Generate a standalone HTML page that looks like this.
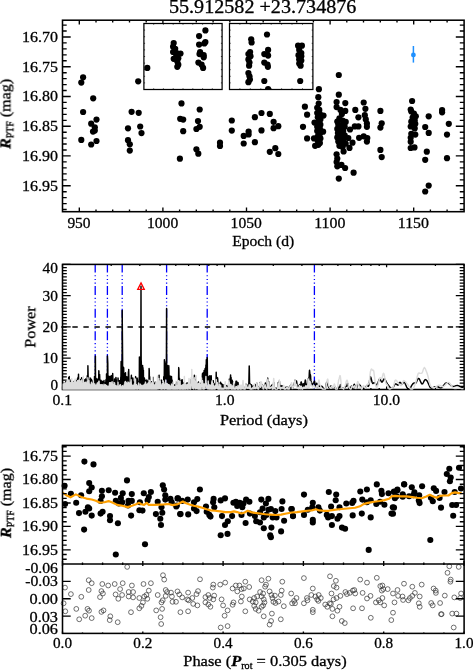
<!DOCTYPE html>
<html lang="en"><head><meta charset="utf-8"><title>55.912582 +23.734876</title>
<style>html,body{margin:0;padding:0;background:#fff}svg{display:block}text{stroke:#000;stroke-width:.3px;will-change:transform}</style></head>
<body>
<svg width="473" height="670" viewBox="0 0 473 670" font-family='"Liberation Serif", "DejaVu Serif", serif' fill="#000">
<rect width="473" height="670" fill="#fff"/>
<text x="262.7" y="12.9" font-size="17.8" text-anchor="middle" textLength="187.5" lengthAdjust="spacingAndGlyphs" >55.912582 +23.734876</text>
<path d="M62.5 25.1L66.7 25.1M464 25.1L459.8 25.1M62.5 31L66.7 31M464 31L459.8 31M62.5 37L70.7 37M464 37L455.8 37M62.5 42.9L66.7 42.9M464 42.9L459.8 42.9M62.5 48.8L66.7 48.8M464 48.8L459.8 48.8M62.5 54.8L66.7 54.8M464 54.8L459.8 54.8M62.5 60.7L66.7 60.7M464 60.7L459.8 60.7M62.5 66.7L70.7 66.7M464 66.7L455.8 66.7M62.5 72.7L66.7 72.7M464 72.7L459.8 72.7M62.5 78.6L66.7 78.6M464 78.6L459.8 78.6M62.5 84.6L66.7 84.6M464 84.6L459.8 84.6M62.5 90.5L66.7 90.5M464 90.5L459.8 90.5M62.5 96.5L70.7 96.5M464 96.5L455.8 96.5M62.5 102.4L66.7 102.4M464 102.4L459.8 102.4M62.5 108.4L66.7 108.4M464 108.4L459.8 108.4M62.5 114.3L66.7 114.3M464 114.3L459.8 114.3M62.5 120.3L66.7 120.3M464 120.3L459.8 120.3M62.5 126.2L70.7 126.2M464 126.2L455.8 126.2M62.5 132.2L66.7 132.2M464 132.2L459.8 132.2M62.5 138.1L66.7 138.1M464 138.1L459.8 138.1M62.5 144L66.7 144M464 144L459.8 144M62.5 150L66.7 150M464 150L459.8 150M62.5 155.9L70.7 155.9M464 155.9L455.8 155.9M62.5 161.9L66.7 161.9M464 161.9L459.8 161.9M62.5 167.9L66.7 167.9M464 167.9L459.8 167.9M62.5 173.8L66.7 173.8M464 173.8L459.8 173.8M62.5 179.8L66.7 179.8M464 179.8L459.8 179.8M62.5 185.7L70.7 185.7M464 185.7L455.8 185.7M62.5 191.7L66.7 191.7M464 191.7L459.8 191.7M62.5 197.6L66.7 197.6M464 197.6L459.8 197.6M62.5 203.6L66.7 203.6M464 203.6L459.8 203.6M62.5 209.5L66.7 209.5M464 209.5L459.8 209.5M79.3 211.8L79.3 207.4M79.3 20.2L79.3 24.6M96 211.8L96 209.6M96 20.2L96 22.4M112.7 211.8L112.7 209.6M112.7 20.2L112.7 22.4M129.5 211.8L129.5 209.6M129.5 20.2L129.5 22.4M146.2 211.8L146.2 209.6M146.2 20.2L146.2 22.4M162.9 211.8L162.9 207.4M162.9 20.2L162.9 24.6M179.6 211.8L179.6 209.6M179.6 20.2L179.6 22.4M196.3 211.8L196.3 209.6M196.3 20.2L196.3 22.4M213.1 211.8L213.1 209.6M213.1 20.2L213.1 22.4M229.8 211.8L229.8 209.6M229.8 20.2L229.8 22.4M246.5 211.8L246.5 207.4M246.5 20.2L246.5 24.6M263.2 211.8L263.2 209.6M263.2 20.2L263.2 22.4M279.9 211.8L279.9 209.6M279.9 20.2L279.9 22.4M296.7 211.8L296.7 209.6M296.7 20.2L296.7 22.4M313.4 211.8L313.4 209.6M313.4 20.2L313.4 22.4M330.1 211.8L330.1 207.4M330.1 20.2L330.1 24.6M346.8 211.8L346.8 209.6M346.8 20.2L346.8 22.4M363.5 211.8L363.5 209.6M363.5 20.2L363.5 22.4M380.3 211.8L380.3 209.6M380.3 20.2L380.3 22.4M397 211.8L397 209.6M397 20.2L397 22.4M413.7 211.8L413.7 207.4M413.7 20.2L413.7 24.6M430.4 211.8L430.4 209.6M430.4 20.2L430.4 22.4M447.1 211.8L447.1 209.6M447.1 20.2L447.1 22.4" stroke="#000" stroke-width="1.35" fill="none"/>
<g id="p1dots">
<circle cx="83.1" cy="77.3" r="3.1"/>
<circle cx="81.3" cy="82.6" r="3.1"/>
<circle cx="93.2" cy="98.3" r="3.1"/>
<circle cx="83.1" cy="112" r="3.1"/>
<circle cx="96.5" cy="119.6" r="3.1"/>
<circle cx="91.2" cy="123.7" r="3.1"/>
<circle cx="94.8" cy="127.3" r="3.1"/>
<circle cx="93" cy="131.6" r="3.1"/>
<circle cx="94.8" cy="130.6" r="3.1"/>
<circle cx="81.3" cy="139.9" r="3.1"/>
<circle cx="96.5" cy="141" r="3.1"/>
<circle cx="91.2" cy="144.5" r="3.1"/>
<circle cx="138.2" cy="81.3" r="3.1"/>
<circle cx="147.3" cy="67.9" r="3.1"/>
<circle cx="131.6" cy="111.8" r="3.1"/>
<circle cx="138.7" cy="112.8" r="3.1"/>
<circle cx="128" cy="128.3" r="3.1"/>
<circle cx="140.2" cy="126.5" r="3.1"/>
<circle cx="141.5" cy="133.1" r="3.1"/>
<circle cx="128" cy="140.2" r="3.1"/>
<circle cx="129.8" cy="144.3" r="3.1"/>
<circle cx="129.8" cy="150.6" r="3.1"/>
<circle cx="181.5" cy="103.4" r="3.1"/>
<circle cx="180.2" cy="118.8" r="3.1"/>
<circle cx="183.2" cy="119.6" r="3.1"/>
<circle cx="183.2" cy="131.2" r="3.1"/>
<circle cx="179.9" cy="158.7" r="3.1"/>
<circle cx="199.7" cy="109.5" r="3.1"/>
<circle cx="198" cy="121" r="3.1"/>
<circle cx="199.7" cy="126.8" r="3.1"/>
<circle cx="196.4" cy="129" r="3.1"/>
<circle cx="196.4" cy="149.3" r="3.1"/>
<circle cx="198.3" cy="153.7" r="3.1"/>
<circle cx="220" cy="142.7" r="3.1"/>
<circle cx="220" cy="146" r="3.1"/>
<circle cx="231.8" cy="120.5" r="3.1"/>
<circle cx="231.8" cy="130.6" r="3.1"/>
<circle cx="243.7" cy="135.9" r="3.1"/>
<circle cx="248.6" cy="131.7" r="3.1"/>
<circle cx="248.6" cy="134.5" r="3.1"/>
<circle cx="243.7" cy="143.5" r="3.1"/>
<circle cx="254.9" cy="117.2" r="3.1"/>
<circle cx="254.9" cy="142.2" r="3.1"/>
<circle cx="261.5" cy="113" r="3.1"/>
<circle cx="261.5" cy="130.4" r="3.1"/>
<circle cx="269.8" cy="113.9" r="3.1"/>
<circle cx="273.6" cy="121.8" r="3.1"/>
<circle cx="278.3" cy="126.2" r="3.1"/>
<circle cx="273.6" cy="128.2" r="3.1"/>
<circle cx="269.8" cy="151.8" r="3.1"/>
<circle cx="275.3" cy="148.2" r="3.1"/>
<circle cx="278.3" cy="154" r="3.1"/>
<circle cx="304.9" cy="106.7" r="3.1"/>
<circle cx="307.1" cy="114.7" r="3.1"/>
<circle cx="303" cy="126.8" r="3.1"/>
<circle cx="307.1" cy="138.4" r="3.1"/>
<circle cx="318.9" cy="89.2" r="3.1"/>
<circle cx="318.3" cy="97.2" r="3.1"/>
<circle cx="318.7" cy="103.5" r="3.1"/>
<circle cx="317.2" cy="107.8" r="3.1"/>
<circle cx="319.3" cy="109.9" r="3.1"/>
<circle cx="317.2" cy="113.1" r="3.1"/>
<circle cx="319.9" cy="114.1" r="3.1"/>
<circle cx="323.5" cy="115.6" r="3.1"/>
<circle cx="317.8" cy="117.3" r="3.1"/>
<circle cx="320.4" cy="119.4" r="3.1"/>
<circle cx="314.5" cy="122.6" r="3.1"/>
<circle cx="317.8" cy="122.6" r="3.1"/>
<circle cx="320.4" cy="124.7" r="3.1"/>
<circle cx="317.2" cy="126.8" r="3.1"/>
<circle cx="319.9" cy="128.9" r="3.1"/>
<circle cx="323.1" cy="131.7" r="3.1"/>
<circle cx="317.2" cy="131" r="3.1"/>
<circle cx="319.9" cy="133.8" r="3.1"/>
<circle cx="317.8" cy="136.3" r="3.1"/>
<circle cx="314" cy="138.4" r="3.1"/>
<circle cx="320.4" cy="138.4" r="3.1"/>
<circle cx="317.8" cy="141" r="3.1"/>
<circle cx="319.9" cy="143.1" r="3.1"/>
<circle cx="315.1" cy="145.8" r="3.1"/>
<circle cx="318.3" cy="144.8" r="3.1"/>
<circle cx="338.8" cy="75" r="3.1"/>
<circle cx="338.8" cy="94.7" r="3.1"/>
<circle cx="336.6" cy="102.1" r="3.1"/>
<circle cx="345.3" cy="103.1" r="3.1"/>
<circle cx="336.6" cy="107.1" r="3.1"/>
<circle cx="340.5" cy="109.9" r="3.1"/>
<circle cx="345.3" cy="110.9" r="3.1"/>
<circle cx="341.9" cy="114.1" r="3.1"/>
<circle cx="339.4" cy="118.3" r="3.1"/>
<circle cx="337.3" cy="121.5" r="3.1"/>
<circle cx="342.6" cy="120.5" r="3.1"/>
<circle cx="345.7" cy="121.9" r="3.1"/>
<circle cx="338.3" cy="124.7" r="3.1"/>
<circle cx="341.9" cy="125.3" r="3.1"/>
<circle cx="344.7" cy="126.8" r="3.1"/>
<circle cx="337.3" cy="128.9" r="3.1"/>
<circle cx="340.5" cy="129.5" r="3.1"/>
<circle cx="343.2" cy="131" r="3.1"/>
<circle cx="337.9" cy="133.1" r="3.1"/>
<circle cx="341.1" cy="134.2" r="3.1"/>
<circle cx="344.7" cy="135.3" r="3.1"/>
<circle cx="337.3" cy="137.4" r="3.1"/>
<circle cx="340.5" cy="138.4" r="3.1"/>
<circle cx="343.6" cy="139.5" r="3.1"/>
<circle cx="348.3" cy="138" r="3.1"/>
<circle cx="338.3" cy="141.6" r="3.1"/>
<circle cx="341.5" cy="142.7" r="3.1"/>
<circle cx="345.7" cy="143.7" r="3.1"/>
<circle cx="339.4" cy="145.8" r="3.1"/>
<circle cx="342.6" cy="146.9" r="3.1"/>
<circle cx="349.5" cy="147.9" r="3.1"/>
<circle cx="352.5" cy="142.7" r="3.1"/>
<circle cx="343.6" cy="151.5" r="3.1"/>
<circle cx="336.6" cy="154.3" r="3.1"/>
<circle cx="337.3" cy="158.5" r="3.1"/>
<circle cx="336.6" cy="162.1" r="3.1"/>
<circle cx="337.3" cy="166.3" r="3.1"/>
<circle cx="341.5" cy="164.9" r="3.1"/>
<circle cx="345.1" cy="168" r="3.1"/>
<circle cx="353.6" cy="172.7" r="3.1"/>
<circle cx="338.8" cy="178.6" r="3.1"/>
<circle cx="355.3" cy="109.9" r="3.1"/>
<circle cx="358.4" cy="117.3" r="3.1"/>
<circle cx="354.8" cy="126.4" r="3.1"/>
<circle cx="358.4" cy="126.4" r="3.1"/>
<circle cx="350" cy="129.5" r="3.1"/>
<circle cx="359.1" cy="137.8" r="3.1"/>
<circle cx="363.7" cy="102.5" r="3.1"/>
<circle cx="365.4" cy="108.8" r="3.1"/>
<circle cx="364.8" cy="115.2" r="3.1"/>
<circle cx="365.8" cy="119.4" r="3.1"/>
<circle cx="366.9" cy="123.6" r="3.1"/>
<circle cx="366.9" cy="126.8" r="3.1"/>
<circle cx="363.7" cy="136.3" r="3.1"/>
<circle cx="367.3" cy="138" r="3.1"/>
<circle cx="366.9" cy="141.6" r="3.1"/>
<circle cx="412.1" cy="101" r="3.1"/>
<circle cx="410.7" cy="109.6" r="3.1"/>
<circle cx="411.3" cy="111.5" r="3.1"/>
<circle cx="413.9" cy="113.6" r="3.1"/>
<circle cx="415.8" cy="116.3" r="3.1"/>
<circle cx="412.6" cy="117.6" r="3.1"/>
<circle cx="414.7" cy="120.3" r="3.1"/>
<circle cx="411.3" cy="121.7" r="3.1"/>
<circle cx="415.3" cy="123.8" r="3.1"/>
<circle cx="412.6" cy="125.7" r="3.1"/>
<circle cx="410.7" cy="126.5" r="3.1"/>
<circle cx="414.7" cy="128.4" r="3.1"/>
<circle cx="411.3" cy="133.8" r="3.1"/>
<circle cx="415.3" cy="134.6" r="3.1"/>
<circle cx="410.7" cy="137.8" r="3.1"/>
<circle cx="410.7" cy="141.8" r="3.1"/>
<circle cx="410.7" cy="148" r="3.1"/>
<circle cx="414.5" cy="147.4" r="3.1"/>
<circle cx="428.7" cy="116.3" r="3.1"/>
<circle cx="425.2" cy="127" r="3.1"/>
<circle cx="428.7" cy="132.9" r="3.1"/>
<circle cx="426.8" cy="151.7" r="3.1"/>
<circle cx="425.2" cy="159.8" r="3.1"/>
<circle cx="428.7" cy="185.6" r="3.1"/>
<circle cx="425.2" cy="191.5" r="3.1"/>
<circle cx="442.1" cy="110.1" r="3.1"/>
<circle cx="442.1" cy="112.3" r="3.1"/>
<circle cx="448.8" cy="123.8" r="3.1"/>
<circle cx="447" cy="134.6" r="3.1"/>
<circle cx="447" cy="158.2" r="3.1"/>
<circle cx="380.4" cy="110.9" r="3.1"/>
<circle cx="381.7" cy="123.3" r="3.1"/>
<circle cx="380.4" cy="127.6" r="3.1"/>
<circle cx="380.4" cy="149.9" r="3.1"/>
<circle cx="381.7" cy="157.1" r="3.1"/>
</g>
<rect x="143.9" y="23.5" width="78.2" height="66" fill="#fff" stroke="#000" stroke-width="1.25"/>
<path d="M153.7 23.5L153.7 24.7M153.7 89.5L153.7 88.3M163.4 23.5L163.4 24.7M163.4 89.5L163.4 88.3M173.2 23.5L173.2 24.7M173.2 89.5L173.2 88.3M183 23.5L183 24.7M183 89.5L183 88.3M192.8 23.5L192.8 24.7M192.8 89.5L192.8 88.3M202.6 23.5L202.6 24.7M202.6 89.5L202.6 88.3M212.3 23.5L212.3 24.7M212.3 89.5L212.3 88.3M143.9 30.1L145.1 30.1M222.1 30.1L220.9 30.1M143.9 36.7L145.1 36.7M222.1 36.7L220.9 36.7M143.9 43.3L145.1 43.3M222.1 43.3L220.9 43.3M143.9 49.9L145.1 49.9M222.1 49.9L220.9 49.9M143.9 56.5L145.1 56.5M222.1 56.5L220.9 56.5M143.9 63.1L145.1 63.1M222.1 63.1L220.9 63.1M143.9 69.7L145.1 69.7M222.1 69.7L220.9 69.7M143.9 76.3L145.1 76.3M222.1 76.3L220.9 76.3M143.9 82.9L145.1 82.9M222.1 82.9L220.9 82.9" stroke="#000" stroke-width="0.7" fill="none"/>
<rect x="229.5" y="23.5" width="83.4" height="66" fill="#fff" stroke="#000" stroke-width="1.25"/>
<path d="M239.9 23.5L239.9 24.7M239.9 89.5L239.9 88.3M250.3 23.5L250.3 24.7M250.3 89.5L250.3 88.3M260.8 23.5L260.8 24.7M260.8 89.5L260.8 88.3M271.2 23.5L271.2 24.7M271.2 89.5L271.2 88.3M281.6 23.5L281.6 24.7M281.6 89.5L281.6 88.3M292 23.5L292 24.7M292 89.5L292 88.3M302.5 23.5L302.5 24.7M302.5 89.5L302.5 88.3M229.5 30.1L230.7 30.1M312.9 30.1L311.7 30.1M229.5 36.7L230.7 36.7M312.9 36.7L311.7 36.7M229.5 43.3L230.7 43.3M312.9 43.3L311.7 43.3M229.5 49.9L230.7 49.9M312.9 49.9L311.7 49.9M229.5 56.5L230.7 56.5M312.9 56.5L311.7 56.5M229.5 63.1L230.7 63.1M312.9 63.1L311.7 63.1M229.5 69.7L230.7 69.7M312.9 69.7L311.7 69.7M229.5 76.3L230.7 76.3M312.9 76.3L311.7 76.3M229.5 82.9L230.7 82.9M312.9 82.9L311.7 82.9" stroke="#000" stroke-width="0.7" fill="none"/>
<clipPath id="ci"><rect x="143.9" y="23.5" width="78.2" height="66"/><rect x="229.5" y="23.5" width="83.4" height="66"/></clipPath>
<g id="insetdots" clip-path="url(#ci)">
<circle cx="173.7" cy="43.1" r="3.1"/>
<circle cx="173.1" cy="46.7" r="3.1"/>
<circle cx="175.2" cy="48.8" r="3.1"/>
<circle cx="173.1" cy="52" r="3.1"/>
<circle cx="176.6" cy="53.1" r="3.1"/>
<circle cx="180.5" cy="53.5" r="3.1"/>
<circle cx="176.2" cy="56.2" r="3.1"/>
<circle cx="173.7" cy="58.8" r="3.1"/>
<circle cx="178.3" cy="58.3" r="3.1"/>
<circle cx="177.3" cy="61.5" r="3.1"/>
<circle cx="178.3" cy="64.7" r="3.1"/>
<circle cx="177.3" cy="66.8" r="3.1"/>
<circle cx="205.4" cy="30.4" r="3.1"/>
<circle cx="199.1" cy="36.1" r="3.1"/>
<circle cx="205.4" cy="42.1" r="3.1"/>
<circle cx="199.1" cy="44.6" r="3.1"/>
<circle cx="204.3" cy="43.5" r="3.1"/>
<circle cx="200.1" cy="52" r="3.1"/>
<circle cx="199.5" cy="54.1" r="3.1"/>
<circle cx="203.7" cy="55.2" r="3.1"/>
<circle cx="203.7" cy="57.3" r="3.1"/>
<circle cx="198.4" cy="62.6" r="3.1"/>
<circle cx="201.6" cy="64.7" r="3.1"/>
<circle cx="203.1" cy="67.9" r="3.1"/>
<circle cx="251.2" cy="39.3" r="3.1"/>
<circle cx="251.6" cy="42.5" r="3.1"/>
<circle cx="250.1" cy="52" r="3.1"/>
<circle cx="248.4" cy="54.1" r="3.1"/>
<circle cx="250.5" cy="56.2" r="3.1"/>
<circle cx="248.4" cy="59.4" r="3.1"/>
<circle cx="249.5" cy="62.6" r="3.1"/>
<circle cx="249.1" cy="65.7" r="3.1"/>
<circle cx="248.4" cy="73.1" r="3.1"/>
<circle cx="249.5" cy="76.3" r="3.1"/>
<circle cx="249.9" cy="79.5" r="3.1"/>
<circle cx="248.4" cy="82.2" r="3.1"/>
<circle cx="267" cy="34.5" r="3.1"/>
<circle cx="268.1" cy="49.9" r="3.1"/>
<circle cx="264.3" cy="54.1" r="3.1"/>
<circle cx="268.1" cy="55.6" r="3.1"/>
<circle cx="264.3" cy="62.6" r="3.1"/>
<circle cx="267.5" cy="64.7" r="3.1"/>
<circle cx="267.9" cy="66.8" r="3.1"/>
<circle cx="264.3" cy="81" r="3.1"/>
<circle cx="268.1" cy="89" r="3.1"/>
<circle cx="298.1" cy="45.7" r="3.1"/>
<circle cx="301.9" cy="45.7" r="3.1"/>
<circle cx="299.2" cy="49.9" r="3.1"/>
<circle cx="301.3" cy="53.1" r="3.1"/>
<circle cx="298.5" cy="55.2" r="3.1"/>
<circle cx="301.3" cy="56.2" r="3.1"/>
<circle cx="299.2" cy="59.4" r="3.1"/>
<circle cx="301.3" cy="60.5" r="3.1"/>
<circle cx="299.2" cy="63.6" r="3.1"/>
<circle cx="300.6" cy="65.7" r="3.1"/>
<circle cx="300.2" cy="81" r="3.1"/>
<circle cx="147.3" cy="67.9" r="3.1"/>
</g>
<path d="M413.4 46V62.6" stroke="#1e90ff" stroke-width="1.5"/><circle cx="413.4" cy="54.9" r="2.4" fill="#1e90ff"/>
<rect x="62.5" y="20.2" width="401.6" height="191.5" fill="none" stroke="#000" stroke-width="1.55"/>
<text x="58" y="41.9" font-size="15.6" text-anchor="end" textLength="36" lengthAdjust="spacingAndGlyphs" >16.70</text>
<text x="58" y="71.6" font-size="15.6" text-anchor="end" textLength="36" lengthAdjust="spacingAndGlyphs" >16.75</text>
<text x="58" y="101.4" font-size="15.6" text-anchor="end" textLength="36" lengthAdjust="spacingAndGlyphs" >16.80</text>
<text x="58" y="131.1" font-size="15.6" text-anchor="end" textLength="36" lengthAdjust="spacingAndGlyphs" >16.85</text>
<text x="58" y="160.8" font-size="15.6" text-anchor="end" textLength="36" lengthAdjust="spacingAndGlyphs" >16.90</text>
<text x="58" y="190.6" font-size="15.6" text-anchor="end" textLength="36" lengthAdjust="spacingAndGlyphs" >16.95</text>
<text x="79" y="227.5" font-size="15.6" text-anchor="middle" textLength="23.2" lengthAdjust="spacingAndGlyphs" >950</text>
<text x="162.6" y="227.5" font-size="15.6" text-anchor="middle" textLength="31.2" lengthAdjust="spacingAndGlyphs" >1000</text>
<text x="246.2" y="227.5" font-size="15.6" text-anchor="middle" textLength="31.2" lengthAdjust="spacingAndGlyphs" >1050</text>
<text x="329.8" y="227.5" font-size="15.6" text-anchor="middle" textLength="31.2" lengthAdjust="spacingAndGlyphs" >1100</text>
<text x="413.4" y="227.5" font-size="15.6" text-anchor="middle" textLength="31.2" lengthAdjust="spacingAndGlyphs" >1150</text>
<text x="263.2" y="246.4" font-size="15.5" text-anchor="middle" textLength="62" lengthAdjust="spacingAndGlyphs" >Epoch (d)</text>
<text transform="translate(10.4 113.9) rotate(-90)" font-size="15.5" text-anchor="middle" textLength="70" lengthAdjust="spacingAndGlyphs"><tspan font-style="italic" font-weight="bold">R</tspan><tspan font-size="9.5" dy="3">PTF</tspan><tspan dy="-3"> (mag)</tspan></text>
<g stroke="#0000ff" stroke-width="1.3" fill="none" stroke-dasharray="9 2.75 1.1 2.55 1.1 2.55 1.1 2.45" stroke-dashoffset="0.9">
<path d="M95.2 264.4V389.4"/>
<path d="M107.4 264.4V389.4"/>
<path d="M122.2 264.4V389.4"/>
<path d="M166.6 264.4V389.4"/>
<path d="M207.2 264.4V389.4"/>
<path d="M314.4 264.4V389.4"/>
</g>
<path d="M62.5 389.4L70.7 389.4M464 389.4L455.8 389.4M62.5 386.3L66.8 386.3M464 386.3L459.7 386.3M62.5 383.2L66.8 383.2M464 383.2L459.7 383.2M62.5 380.1L66.8 380.1M464 380.1L459.7 380.1M62.5 376.9L66.8 376.9M464 376.9L459.7 376.9M62.5 373.8L66.8 373.8M464 373.8L459.7 373.8M62.5 370.7L66.8 370.7M464 370.7L459.7 370.7M62.5 367.6L66.8 367.6M464 367.6L459.7 367.6M62.5 364.4L66.8 364.4M464 364.4L459.7 364.4M62.5 361.3L66.8 361.3M464 361.3L459.7 361.3M62.5 358.2L70.7 358.2M464 358.2L455.8 358.2M62.5 355L66.8 355M464 355L459.7 355M62.5 351.9L66.8 351.9M464 351.9L459.7 351.9M62.5 348.8L66.8 348.8M464 348.8L459.7 348.8M62.5 345.7L66.8 345.7M464 345.7L459.7 345.7M62.5 342.5L66.8 342.5M464 342.5L459.7 342.5M62.5 339.4L66.8 339.4M464 339.4L459.7 339.4M62.5 336.3L66.8 336.3M464 336.3L459.7 336.3M62.5 333.2L66.8 333.2M464 333.2L459.7 333.2M62.5 330L66.8 330M464 330L459.7 330M62.5 326.9L70.7 326.9M464 326.9L455.8 326.9M62.5 323.8L66.8 323.8M464 323.8L459.7 323.8M62.5 320.6L66.8 320.6M464 320.6L459.7 320.6M62.5 317.5L66.8 317.5M464 317.5L459.7 317.5M62.5 314.4L66.8 314.4M464 314.4L459.7 314.4M62.5 311.3L66.8 311.3M464 311.3L459.7 311.3M62.5 308.1L66.8 308.1M464 308.1L459.7 308.1M62.5 305L66.8 305M464 305L459.7 305M62.5 301.9L66.8 301.9M464 301.9L459.7 301.9M62.5 298.8L66.8 298.8M464 298.8L459.7 298.8M62.5 295.6L70.7 295.6M464 295.6L455.8 295.6M62.5 292.5L66.8 292.5M464 292.5L459.7 292.5M62.5 289.4L66.8 289.4M464 289.4L459.7 289.4M62.5 286.2L66.8 286.2M464 286.2L459.7 286.2M62.5 283.1L66.8 283.1M464 283.1L459.7 283.1M62.5 280L66.8 280M464 280L459.7 280M62.5 276.9L66.8 276.9M464 276.9L459.7 276.9M62.5 273.7L66.8 273.7M464 273.7L459.7 273.7M62.5 270.6L66.8 270.6M464 270.6L459.7 270.6M62.5 267.5L66.8 267.5M464 267.5L459.7 267.5M62.5 264.4L70.7 264.4M464 264.4L455.8 264.4M62.5 264.4L62.5 267.2M62.5 389.4L62.5 386.6M111.2 264.4L111.2 265.9M111.2 389.4L111.2 387.9M139.8 264.4L139.8 265.9M139.8 389.4L139.8 387.9M160 264.4L160 265.9M160 389.4L160 387.9M175.8 264.4L175.8 265.9M175.8 389.4L175.8 387.9M188.6 264.4L188.6 265.9M188.6 389.4L188.6 387.9M199.4 264.4L199.4 265.9M199.4 389.4L199.4 387.9M208.8 264.4L208.8 265.9M208.8 389.4L208.8 387.9M217.1 264.4L217.1 265.9M217.1 389.4L217.1 387.9M224.6 264.4L224.6 267.2M224.6 389.4L224.6 386.6M273.3 264.4L273.3 265.9M273.3 389.4L273.3 387.9M301.9 264.4L301.9 265.9M301.9 389.4L301.9 387.9M322.1 264.4L322.1 265.9M322.1 389.4L322.1 387.9M337.9 264.4L337.9 265.9M337.9 389.4L337.9 387.9M350.7 264.4L350.7 265.9M350.7 389.4L350.7 387.9M361.5 264.4L361.5 265.9M361.5 389.4L361.5 387.9M370.9 264.4L370.9 265.9M370.9 389.4L370.9 387.9M379.2 264.4L379.2 265.9M379.2 389.4L379.2 387.9M386.6 264.4L386.6 267.2M386.6 389.4L386.6 386.6M435.4 264.4L435.4 265.9M435.4 389.4L435.4 387.9M464 264.4L464 265.9M464 389.4L464 387.9" stroke="#000" stroke-width="1.25" fill="none"/>
<rect x="62.5" y="264.4" width="401.6" height="125.1" fill="none" stroke="#000" stroke-width="1.55"/>
<clipPath id="c2"><rect x="62.5" y="264.4" width="401.6" height="125.4"/></clipPath>
<g clip-path="url(#c2)" fill="none" stroke-linejoin="round">
<path d="M62.7 383.1L62.8 389.4L62.9 384.8L63.2 389.4L63.6 389.4L63.6 385.7L63.9 389.4L64.0 385.6L64.3 389.4L64.4 386.9L64.6 384.9L64.7 389.4L64.9 389.4L65.1 386.3L65.3 389.4L65.6 385.7L65.8 381.6L66.0 389.3L66.1 383.8L66.2 389.4L66.5 385.2L66.7 389.4L66.9 389.4L67.1 387.0L67.4 383.0L67.6 389.4L67.7 386.2L67.9 389.4L68.2 386.6L68.4 389.4L68.5 389.2L68.7 377.5L68.9 389.2L69.2 378.3L69.3 376.6L69.3 389.4L69.8 379.7L69.8 389.4L70.3 389.3L70.3 381.0L70.5 389.4L70.8 383.8L70.9 383.6L71.2 389.4L71.5 389.4L71.6 385.4L71.7 383.8L71.8 389.4L72.1 389.4L72.1 383.6L72.5 383.5L72.7 389.4L72.9 384.4L73.1 389.4L73.5 389.4L73.6 381.6L73.9 389.4L74.0 382.9L74.1 389.4L74.4 383.1L74.5 389.4L74.5 385.4L75.0 389.4L75.2 382.1L75.3 382.7L75.3 389.4L75.7 389.4L75.9 384.4L76.3 389.4L76.4 380.7L76.5 382.2L76.5 389.4L76.9 381.0L77.1 389.3L77.5 378.8L77.5 389.4L77.8 389.4L78.0 377.4L78.1 377.3L78.4 389.3L78.5 374.1L78.8 389.2L79.2 382.8L79.2 389.4L79.3 382.0L79.5 389.3L79.7 383.2L79.8 389.4L80.3 381.3L80.3 389.4L80.5 389.4L80.7 379.5L81.0 389.2L81.1 383.2L81.4 389.4L81.6 377.8L81.9 389.0L82.0 380.0L82.1 380.7L82.2 389.4L82.6 389.4L82.8 382.8L82.9 381.5L83.0 389.4L83.3 379.9L83.3 389.4L83.7 382.8L83.8 389.4L84.1 389.3L84.2 379.8L84.6 380.9L84.8 389.4L85.0 381.2L85.2 389.1L85.3 389.4L85.6 378.9L85.7 389.4L86.0 385.1L86.2 383.4L86.4 389.4L86.5 389.3L86.8 383.1L86.9 382.8L87.0 389.4L87.3 375.8L87.5 389.0L87.7 389.4L87.9 365.7L88.1 374.4L88.3 389.1L88.6 377.2L88.8 389.4L89.0 381.7L89.1 389.4L89.3 381.9L89.5 389.4L89.9 389.4L90.0 380.1L90.3 389.4L90.4 382.1L90.5 378.1L90.5 389.1L91.1 381.2L91.2 389.4L91.3 389.2L91.5 379.5L91.7 385.3L91.8 389.4L92.2 389.3L92.4 381.0L92.7 389.4L92.8 384.0L92.9 381.4L93.2 389.4L93.4 383.0L93.6 389.4L93.8 389.4L93.9 381.2L94.2 384.6L94.4 389.4L94.5 376.5L94.8 388.3L95.2 389.0L95.2 364.5L95.4 356.1L95.6 388.8L95.7 389.4L96.0 378.2L96.1 381.5L96.3 389.0L96.5 389.4L96.8 379.1L97.0 383.7L97.1 388.8L97.4 389.4L97.6 381.8L97.8 389.4L97.8 382.0L98.1 378.8L98.2 389.3L98.5 389.4L98.8 370.7L98.9 371.0L99.2 389.0L99.3 389.3L99.6 374.4L99.7 376.3L100.0 389.4L100.1 386.2L100.3 389.4L100.5 384.5L100.8 389.4L100.9 380.3L101.1 389.4L101.6 389.3L101.6 384.1L101.7 387.3L101.8 381.2L102.1 388.5L102.3 381.8L102.6 381.5L102.7 388.8L103.0 386.6L103.0 389.4L103.3 389.4L103.6 388.0L103.9 389.4L104.0 380.5L104.1 384.7L104.2 389.4L104.5 389.1L104.6 382.6L104.9 389.2L105.2 383.4L105.3 384.0L105.6 389.4L105.9 379.8L106.0 389.3L106.1 389.1L106.3 379.6L106.5 386.8L106.5 373.9L107.1 389.2L107.2 375.3L107.4 386.1L107.4 355.9L107.8 363.3L108.0 389.2L108.2 388.1L108.4 376.0L108.6 376.9L108.8 389.1L108.9 381.0L109.0 389.3L109.3 377.0L109.5 389.4L110.0 389.4L110.0 382.0L110.1 376.2L110.4 388.7L110.5 388.8L110.8 378.9L110.9 380.4L110.9 389.4L111.4 389.4L111.5 375.6L111.7 376.3L111.9 388.4L112.2 389.4L112.4 377.1L112.6 387.0L112.7 373.5L112.9 379.0L113.2 389.4L113.4 389.4L113.6 387.0L113.8 386.1L114.0 389.4L114.3 384.0L114.4 389.3L114.5 389.4L114.6 378.9L115.1 388.7L115.2 382.6L115.3 382.9L115.4 386.2L115.8 386.6L115.9 377.4L116.3 380.4L116.3 388.9L116.6 385.5L116.8 389.1L117.0 387.1L117.2 389.4L117.5 389.4L117.6 382.9L117.9 389.3L118.0 377.9L118.1 378.6L118.2 388.5L118.5 381.8L118.7 389.3L119.0 388.9L119.2 382.8L119.4 389.1L119.5 380.8L119.7 384.0L119.7 389.4L120.3 380.5L120.4 389.1L120.5 389.3L120.8 377.0L120.9 382.9L121.1 361.5L121.4 370.0L121.6 388.6L121.8 389.4L122.0 369.7L122.1 378.0L122.2 310.4L122.6 356.9L122.7 388.5L123.1 380.5L123.2 387.6L123.3 386.7L123.4 367.3L123.7 367.9L123.9 389.4L124.1 373.2L124.2 389.2L124.6 377.0L124.7 388.9L124.9 377.8L125.1 388.8L125.4 389.3L125.5 372.7L125.7 383.3L126.0 388.9L126.3 388.7L126.4 376.8L126.6 389.3L126.6 380.2L127.0 384.3L127.1 388.7L127.4 377.0L127.5 388.1L127.7 381.1L128.0 389.4L128.2 389.3L128.4 371.7L128.6 384.2L128.7 369.5L128.9 378.3L129.1 388.8L129.3 383.2L129.4 389.2L129.9 384.3L130.0 389.4L130.2 384.2L130.4 389.4L130.5 389.3L130.5 385.6L130.9 389.3L131.1 380.0L131.4 375.3L131.6 389.4L131.7 389.1L132.0 382.8L132.1 388.1L132.3 382.7L132.5 386.4L132.8 378.0L132.9 378.9L133.1 388.8L133.3 381.6L133.5 389.1L133.7 385.7L133.9 389.4L134.2 389.4L134.3 386.7L134.6 385.5L134.8 389.1L134.9 389.4L135.0 384.8L135.4 389.1L135.6 376.6L135.7 377.8L135.8 386.9L136.2 380.5L136.4 389.4L136.5 387.5L136.8 389.4L136.9 388.7L137.2 378.1L137.3 389.4L137.4 379.5L137.9 389.4L138.0 381.6L138.1 385.1L138.4 389.0L138.5 384.6L138.8 389.4L138.9 389.2L139.2 377.3L139.3 381.4L139.4 356.9L140.0 360.4L140.0 384.5L140.1 377.4L140.4 388.6L140.5 380.9L140.8 356.3L141.0 286.2L141.2 371.6L141.3 360.6L141.6 388.0L141.8 386.6L142.0 376.9L142.2 388.2L142.4 366.8L142.6 365.4L142.7 379.3L143.0 367.7L143.1 389.4L143.4 370.1L143.6 389.4L143.8 389.4L144.0 383.6L144.1 388.5L144.4 378.0L144.5 378.9L144.6 389.4L144.9 380.1L145.1 388.7L145.3 380.3L145.5 388.7L145.7 386.1L145.9 389.4L146.3 389.3L146.4 381.2L146.7 388.8L146.8 379.9L146.9 384.2L147.2 389.2L147.3 388.6L147.3 383.9L147.8 381.1L147.9 389.3L148.2 383.8L148.3 389.2L148.5 389.3L148.6 386.1L148.9 388.4L149.1 368.5L149.3 370.4L149.4 383.0L149.7 376.7L150.0 388.4L150.2 388.7L150.3 385.0L150.5 389.0L150.8 382.7L151.0 386.9L151.2 382.2L151.3 389.2L151.4 381.8L151.8 389.3L152.0 382.2L152.1 382.6L152.1 389.4L152.5 388.3L152.8 380.8L153.1 387.5L153.2 377.5L153.3 380.7L153.5 389.4L153.7 388.9L153.9 384.8L154.2 389.1L154.4 385.6L154.5 383.3L154.7 387.2L155.2 382.3L155.2 388.8L155.3 387.5L155.4 389.4L155.7 389.4L155.8 385.6L156.1 389.4L156.4 385.0L156.6 389.0L156.8 384.7L157.0 389.4L157.2 384.8L157.4 387.1L157.6 383.0L157.7 384.2L158.0 389.1L158.2 389.4L158.4 385.4L158.7 388.7L158.8 383.6L159.1 375.3L159.2 385.6L159.4 387.2L159.5 379.8L159.8 383.0L160.0 389.2L160.2 387.6L160.4 389.3L160.5 389.4L160.8 385.8L161.0 387.6L161.2 382.6L161.4 389.4L161.5 380.1L161.8 388.8L161.9 383.4L162.1 389.0L162.3 382.4L162.5 383.2L162.8 389.0L163.0 389.4L163.1 387.3L163.3 386.2L163.6 389.3L163.7 385.4L163.7 376.7L164.2 383.1L164.4 359.7L164.5 377.7L164.8 369.2L164.9 381.3L165.2 364.4L165.4 371.0L165.5 386.6L165.7 387.0L166.0 361.8L166.3 375.4L166.4 360.2L166.6 308.4L166.7 372.4L166.9 378.2L167.1 366.0L167.3 365.5L167.5 386.8L167.8 385.8L168.0 374.6L168.1 376.8L168.2 384.9L168.5 383.3L168.8 365.6L169.0 372.8L169.1 385.2L169.3 378.0L169.6 382.6L169.8 389.4L170.0 377.7L170.1 376.0L170.2 389.3L170.7 389.4L170.8 385.8L170.9 389.3L171.0 382.6L171.3 389.1L171.5 376.5L171.7 381.5L172.0 387.1L172.1 380.0L172.4 384.0L172.5 384.5L172.7 388.5L173.1 386.4L173.2 389.0L173.3 389.4L173.6 386.7L173.9 387.0L174.0 389.3L174.1 389.4L174.2 386.5L174.5 389.2L174.7 385.0L175.1 384.7L175.2 387.9L175.4 387.6L175.5 389.4L175.8 389.4L176.0 383.8L176.1 384.7L176.4 389.0L176.5 389.1L176.7 382.2L177.1 388.8L177.2 386.0L177.3 387.0L177.3 389.3L177.7 389.4L177.8 383.0L178.1 383.0L178.2 386.1L178.5 385.3L178.7 367.6L178.9 369.2L179.1 383.4L179.5 378.2L179.6 382.8L179.7 383.2L179.9 388.7L180.2 385.7L180.3 387.6L180.5 386.4L180.7 389.2L180.9 386.7L181.2 380.2L181.4 384.6L181.6 380.3L181.7 382.2L182.0 389.3L182.2 379.7L182.3 388.8L182.6 389.4L182.8 388.1L183.1 382.6L183.2 389.0L183.3 389.2L183.4 385.9L183.9 389.1L184.0 385.1L184.1 386.6L184.3 382.5L184.5 386.0L184.8 388.8L185.0 385.0L185.1 389.2L185.4 389.4L185.5 386.8L185.8 389.2L186.0 384.5L186.1 384.1L186.4 388.8L186.5 389.0L186.7 385.3L187.1 382.8L187.2 388.1L187.4 384.1L187.6 389.1L187.8 389.4L188.0 384.5L188.1 386.2L188.4 389.3L188.5 388.2L188.8 389.0L188.9 389.1L189.1 384.5L189.4 386.7L189.5 389.0L189.9 389.1L190.0 383.9L190.1 383.4L190.4 389.3L190.6 384.8L190.8 389.4L190.9 388.7L191.2 381.5L191.3 379.5L191.5 386.9L191.9 379.3L192.0 383.9L192.2 382.6L192.4 387.2L192.5 387.5L192.6 389.0L192.9 388.9L193.2 381.3L193.3 380.9L193.6 386.9L193.8 388.8L194.0 380.3L194.3 384.5L194.4 375.3L194.5 375.5L194.8 387.1L194.9 387.8L195.1 379.8L195.3 384.5L195.6 381.8L195.7 385.4L195.8 389.4L196.1 385.1L196.4 388.9L196.6 388.4L196.8 389.3L197.1 389.2L197.2 387.7L197.3 387.2L197.6 383.5L197.7 384.1L198.0 386.2L198.3 389.4L198.4 383.8L198.5 382.0L198.7 388.7L199.0 389.4L199.2 384.1L199.3 384.1L199.5 389.1L199.9 385.3L200.0 387.8L200.1 388.3L200.2 383.5L200.5 386.1L200.8 389.0L200.9 389.2L201.2 387.7L201.3 387.4L201.5 382.7L201.7 387.5L202.0 386.6L202.1 385.3L202.4 374.5L202.5 373.5L202.7 378.7L202.9 375.2L203.1 384.5L203.3 380.5L203.4 372.5L203.7 380.6L204.0 374.6L204.1 370.4L204.3 384.2L204.5 380.1L204.7 373.5L204.9 380.5L205.1 368.4L205.3 378.6L205.6 386.1L205.7 386.9L205.9 365.1L206.1 377.5L206.3 359.8L206.5 370.1L206.7 379.3L206.9 375.1L207.2 357.6L207.3 358.2L207.5 383.7L207.7 375.9L207.9 384.3L208.2 376.9L208.3 382.8L208.5 376.6L208.8 383.6L208.9 384.6L209.0 385.5L209.4 386.4L209.6 380.8L209.8 375.7L210.0 384.5L210.1 386.0L210.4 379.3L210.5 379.0L210.8 383.2L210.9 383.5L211.2 375.7L211.3 377.4L211.4 386.6L211.7 384.5L211.9 388.4L212.2 380.9L212.3 385.6L212.5 384.6L212.7 387.5L213.1 387.9L213.2 382.1L213.3 380.8L213.5 386.5L213.7 383.5L213.9 389.4L214.1 387.2L214.4 389.3L214.5 389.3L214.8 385.5L214.9 384.7L215.1 388.8L215.3 383.3L215.5 387.1L215.9 388.1L216.0 384.6L216.2 372.2L216.4 380.2L216.6 379.4L216.8 383.7L216.9 383.3L217.1 380.5L217.3 381.5L217.5 377.6L217.7 378.9L218.0 384.2L218.1 385.4L218.4 388.2L218.5 388.1L218.8 387.4L219.1 388.0L219.2 386.1L219.3 386.0L219.6 389.3L219.7 389.2L220.0 387.5L220.2 382.9L220.4 387.0L220.6 382.2L220.8 386.6L221.0 387.1L221.2 388.9L221.3 389.4L221.6 383.6L221.7 384.0L222.0 387.9L222.1 388.6L222.4 386.5L222.5 386.4L222.7 388.4L223.0 384.6L223.2 387.6L223.3 386.9L223.6 389.1L223.8 388.7L224.0 389.2L224.2 389.4L224.4 389.0L224.5 388.1L224.7 389.1L224.9 388.4L225.2 384.8L225.3 386.0L225.4 386.9L225.7 386.4L225.9 389.0L226.1 388.0L226.4 385.6L226.5 385.8L226.8 387.4L226.9 387.3L227.2 387.9L227.3 387.9L227.6 386.5L227.8 388.1L228.0 386.0L228.1 386.3L228.4 389.3L228.5 388.5L228.8 379.9L229.0 383.5L229.2 379.2L229.3 379.7L229.6 383.2L229.7 384.4L229.9 387.6L230.1 385.0L230.4 377.6L230.6 374.9L230.8 381.4L231.1 377.5L231.2 382.4L231.3 384.5L231.5 386.6L231.7 385.2L232.0 383.4L232.2 380.3L232.4 383.3L232.7 381.8L232.8 383.6L232.9 385.1L233.2 387.7L233.3 387.6L233.6 385.3L233.7 385.4L234.0 384.1L234.1 385.2L234.3 386.9L234.5 386.4L234.8 389.4L234.9 389.4L235.2 388.8L235.3 388.2L235.6 385.8L235.7 385.5L236.0 381.3L236.1 383.1L236.3 387.6L236.5 386.2L236.7 381.2L236.9 384.8L237.0 385.7L237.3 386.2L237.6 388.9L237.7 389.3L238.0 383.1L238.1 382.6L238.4 388.2L238.6 388.4L238.8 389.3L238.9 389.2L239.1 388.4L239.3 389.1L239.6 386.9L239.8 388.1L240.0 386.3L240.1 385.9L240.4 389.4L240.5 389.3L240.8 388.1L241.0 389.0L241.2 388.0L241.3 388.0L241.6 389.3L241.8 388.9L242.0 389.2L242.1 389.2L242.4 388.6L242.5 388.3L242.8 385.8L242.9 385.5L243.1 385.9L243.3 385.8L243.6 388.7L243.7 389.2L244.0 389.4L244.1 389.4L244.3 388.8L244.6 389.2L244.8 388.2L244.9 388.1L245.2 388.6L245.3 388.5L245.6 386.7L245.7 386.1L246.0 384.1L246.1 384.7L246.3 387.8L246.5 387.1L246.8 384.6L246.9 385.1L247.1 387.0L247.3 386.6L247.5 385.9L247.7 386.4L247.9 387.4L248.1 386.7L248.4 386.0L248.5 386.0L248.8 383.5L248.9 381.1L249.2 365.9L249.3 367.1L249.6 383.3L249.8 386.9L250.0 384.4L250.1 383.6L250.4 386.5L250.6 388.1L250.8 387.1L250.9 387.2L251.2 387.8L251.3 386.7L251.5 384.8L251.7 385.9L252.0 388.4L252.1 388.0L252.3 386.3L252.5 387.0L252.8 389.4L252.9 389.4L253.2 387.6L253.3 387.0L253.4 386.2L253.8 388.3L254.0 387.2L254.3 385.5L254.4 386.5L254.5 387.4L254.7 388.6L254.9 388.3L255.2 387.5L255.4 387.5L255.6 386.8L255.7 386.0L255.9 384.4L256.1 385.4L256.3 387.9L256.5 387.2L256.8 383.2L256.9 383.3L257.2 386.9L257.3 387.5L257.6 388.2L257.7 388.2L258.0 387.8L258.2 387.6L258.4 388.9L258.6 389.4L258.8 388.3L258.9 387.4L259.0 386.6L259.3 387.5L259.6 386.6L259.7 386.0L260.0 382.8L260.1 382.4L260.4 387.0L260.5 388.2L260.7 389.0L260.9 388.5L261.2 387.0L261.3 386.4L261.6 384.4L261.7 384.6L262.0 386.2L262.2 387.4L262.4 386.0L262.6 385.3L262.8 386.3L262.9 387.3L263.2 389.1L263.3 389.1L263.4 388.8L263.8 389.1L264.0 388.9L264.1 388.7L264.3 388.5L264.5 388.5L264.8 387.7L264.9 387.0L265.2 384.5L265.4 383.0L265.6 384.3L265.7 385.5L266.0 386.3L266.2 385.5L266.4 386.2L266.5 387.0L266.8 389.2L266.9 389.3L267.2 387.7L267.3 386.5L267.6 379.7L267.8 378.1L268.0 381.4L268.1 384.0L268.3 386.6L268.5 383.8L268.7 381.6L268.9 382.9L269.2 386.7L269.3 387.4L269.6 387.8L269.7 387.8L270.0 387.9L270.1 387.8L270.4 386.8L270.5 386.6L270.8 386.4L270.9 386.6L271.2 387.8L271.3 387.5L271.6 385.9L271.7 385.4L272.0 385.0L272.1 385.3L272.4 388.4L272.5 388.9L272.8 385.8L272.9 385.2L273.2 387.2L273.3 389.0L273.6 383.1L273.7 382.4L274.0 386.3L274.1 387.6L274.3 388.4L274.5 387.9L274.8 387.5L274.9 387.5L275.2 388.3L275.3 388.6L275.6 389.2L275.8 389.1L276.0 388.7L276.1 388.6L276.2 388.5L276.5 388.6L276.8 388.5L276.9 388.3L277.1 388.0L277.3 388.2L277.5 388.5L277.7 388.2L278.0 385.0L278.1 383.7L278.3 382.5L278.5 383.4L278.8 386.8L278.9 385.7L279.1 382.4L279.4 381.0L279.6 384.0L279.7 386.2L280.0 388.9L280.1 389.2L280.4 389.4L280.5 389.4L280.8 387.8L280.9 386.6L281.1 385.6L281.3 386.0L281.6 387.7L281.7 387.3L282.0 386.2L282.1 385.8L282.3 386.2L282.5 386.8L282.8 388.4L283.1 389.0L283.2 388.8L283.3 388.3L283.6 387.6L283.7 387.5L283.9 387.8L284.1 388.2L284.4 389.4L284.6 389.4L284.8 389.1L285.1 388.9L285.2 389.0L285.3 389.1L285.6 388.7L285.7 388.1L285.9 387.1L286.1 387.1L286.3 388.1L286.6 388.7L286.8 387.6L287.0 387.1L287.1 387.0L287.4 387.5L287.6 388.4L287.7 388.8L288.0 389.4L288.1 389.4L288.4 389.0L288.5 388.8L288.8 389.1L288.9 389.4L289.2 388.7L289.3 387.8L289.6 386.4L289.7 386.2L290.0 387.0L290.1 387.4L290.4 387.9L290.5 387.9L290.8 387.0L291.0 386.2L291.2 384.7L291.4 384.7L291.6 386.3L291.8 387.4L291.9 388.2L292.2 388.7L292.3 388.5L292.5 388.1L292.8 387.2L292.9 386.8L293.2 386.2L293.3 385.7L293.6 384.9L293.8 384.7L294.0 384.3L294.2 384.0L294.3 383.7L294.5 383.1L294.8 381.1L295.0 380.2L295.2 380.7L295.3 381.6L295.6 383.8L295.8 384.1L295.9 383.7L296.1 382.9L296.4 381.1L296.5 380.9L296.8 382.7L297.0 384.0L297.1 385.1L297.3 385.9L297.6 386.7L297.7 386.6L298.0 386.2L298.2 386.1L298.3 385.9L298.5 385.8L298.8 385.9L298.9 385.9L299.2 385.5L299.4 385.1L299.5 384.7L299.7 384.5L300.0 385.2L300.2 385.9L300.3 386.2L300.5 385.9L300.8 383.9L300.9 382.7L301.1 381.9L301.3 382.0L301.6 384.2L301.7 385.9L301.9 387.3L302.2 388.3L302.4 387.8L302.5 386.8L302.7 385.7L302.9 384.7L303.2 383.6L303.3 383.7L303.5 384.2L303.7 384.8L304.0 385.9L304.2 386.3L304.3 386.4L304.5 385.8L304.8 383.2L305.0 381.8L305.2 380.6L305.3 380.0L305.5 380.4L305.7 381.8L306.0 384.3L306.2 384.6L306.3 384.4L306.5 384.2L306.7 384.3L306.9 384.9L307.2 386.9L307.4 387.5L307.6 387.4L307.7 386.5L307.9 384.9L308.1 382.6L308.4 378.4L308.6 378.1L308.8 379.3L309.0 380.1L309.1 378.0L309.3 373.1L309.5 370.2L309.7 371.9L310.0 375.1L310.2 374.6L310.4 374.8L310.6 376.1L310.7 378.3L310.9 380.4L311.1 382.0L311.3 382.9L311.5 383.6L311.7 384.3L312.0 385.1L312.2 385.3L312.4 385.1L312.6 384.7L312.8 384.0L313.0 383.4L313.1 383.1L313.3 383.0L313.5 383.0L313.7 382.8L313.9 382.3L314.1 381.7L314.3 381.2L314.5 381.0L314.8 382.6L315.0 384.3L315.2 385.8L315.4 387.0L315.6 387.4L315.8 387.3L316.0 386.6L316.2 385.4L316.4 384.2L316.6 383.2L316.8 383.2L317.0 384.0L317.2 385.2L317.4 386.3L317.6 386.9L317.8 386.7L318.0 386.0L318.2 384.9L318.4 383.9L318.6 383.2L318.8 383.1L319.0 383.7L319.2 384.6L319.4 385.6L319.6 386.3L319.8 386.6L320.0 386.5L320.2 386.2L320.4 385.9L320.7 385.9L320.9 386.0L321.1 386.2L321.3 386.3L321.5 386.4L321.7 386.4L321.9 386.3L322.1 386.4L322.3 386.6L322.6 387.0L322.8 387.4L323.0 387.7L323.2 388.0L323.4 388.2L323.6 388.4L323.9 388.6L324.1 388.6L324.3 388.6L324.5 388.6L324.7 388.7L325.0 388.8L325.2 388.9L325.4 388.8L325.6 388.1L325.8 386.9L326.1 385.4L326.3 384.0L326.5 382.9L326.8 382.3L327.0 382.3L327.2 382.8L327.4 383.5L327.7 384.2L327.9 384.9L328.1 385.6L328.4 386.4L328.6 387.0L328.8 387.5L329.1 387.8L329.3 388.0L329.5 388.0L329.8 387.8L330.0 387.4L330.3 386.9L330.5 386.4L330.7 386.1L331.0 385.9L331.2 386.0L331.5 386.3L331.7 386.7L331.9 386.9L332.2 387.2L332.4 387.5L332.7 387.8L332.9 388.1L333.2 388.3L333.4 388.3L333.7 388.1L333.9 387.8L334.2 387.4L334.4 387.1L334.7 386.9L334.9 386.9L335.2 387.3L335.5 387.9L335.7 388.6L336.0 389.2L336.2 389.4L336.5 389.3L336.8 388.8L337.0 388.5L337.3 388.5L337.6 388.7L337.8 388.7L338.1 388.2L338.4 387.5L338.6 387.1L338.9 387.1L339.2 387.5L339.4 387.6L339.7 387.1L340.0 386.1L340.3 385.1L340.5 384.6L340.8 385.0L341.1 386.1L341.4 387.6L341.7 388.4L341.9 388.4L342.2 388.0L342.5 387.6L342.8 387.6L343.1 388.0L343.4 388.5L343.6 388.8L343.9 388.9L344.2 388.7L344.5 388.3L344.8 387.7L345.1 387.0L345.4 386.5L345.7 386.2L346.0 386.3L346.3 386.4L346.6 386.2L346.9 385.3L347.2 384.1L347.5 383.3L347.8 383.5L348.1 384.7L348.4 386.3L348.7 387.9L349.1 388.8L349.4 388.9L349.7 388.5L350.0 388.1L350.3 387.8L350.6 387.4L351.0 386.8L351.3 386.2L351.6 386.1L351.9 386.6L352.3 387.4L352.6 388.2L352.9 388.2L353.2 387.4L353.6 386.0L353.9 384.8L354.2 384.2L354.6 384.8L354.9 386.1L355.3 387.6L355.6 388.6L355.9 389.0L356.3 388.8L356.6 388.0L357.0 386.8L357.3 385.4L357.7 384.2L358.0 383.6L358.4 383.6L358.8 384.1L359.1 384.7L359.5 385.0L359.8 385.1L360.2 385.4L360.6 386.1L360.9 387.2L361.3 388.1L361.7 388.5L362.1 388.6L362.4 388.4L362.8 388.2L363.2 388.1L363.6 388.3L364.0 388.5L364.4 388.6L364.7 388.6L365.1 388.5L365.5 388.0L365.9 387.3L366.3 386.4L366.7 385.6L367.1 385.4L367.5 385.7L367.9 386.3L368.3 386.4L368.8 385.7L369.2 383.6L369.6 380.4L370.0 377.6L370.4 376.7L370.9 377.4L371.3 378.9L371.7 380.6L372.1 382.2L372.6 383.3L373.0 383.5L373.5 383.0L373.9 382.7L374.3 382.7L374.8 382.9L375.2 383.3L375.7 383.8L376.2 384.4L376.6 384.8L377.1 384.8L377.6 384.1L378.0 382.8L378.5 381.3L379.0 380.0L379.4 379.1L379.9 378.9L380.4 379.6L380.9 380.7L381.4 381.8L381.9 382.1L382.4 381.8L382.9 381.0L383.4 379.9L383.9 379.0L384.4 378.7L385.0 379.2L385.5 380.2L386.0 381.4L386.5 382.5L387.1 383.4L387.6 384.2L388.1 384.8L388.7 385.6L389.2 386.3L389.8 387.1L390.4 387.7L390.9 388.2L391.5 388.5L392.1 388.4L392.6 388.1L393.2 387.4L393.8 386.3L394.4 385.1L395.0 384.2L395.6 383.9L396.2 384.0L396.8 384.5L397.4 385.1L398.1 385.1L398.7 383.9L399.3 382.7L400.0 382.3L400.6 382.8L401.3 383.6L401.9 384.1L402.6 383.7L403.3 382.6L403.9 381.9L404.6 382.5L405.3 383.9L406.0 385.5L406.7 387.1L407.4 388.2L408.2 388.9L408.9 389.0L409.6 388.8L410.4 388.0L411.1 386.6L411.9 385.1L412.6 384.1L413.4 383.4L414.2 382.9L415.0 383.1L415.8 383.0L416.6 381.8L417.4 379.7L418.2 378.4L419.1 378.7L419.9 380.2L420.8 382.2L421.7 383.8L422.6 383.9L423.4 382.5L424.3 380.6L425.3 379.6L426.2 379.9L427.1 380.9L428.1 382.9L429.1 385.3L430.0 387.1L431.0 388.0L432.0 388.1L433.1 387.7L434.1 387.2L435.2 386.8L436.2 386.6L437.3 386.6L438.4 387.0L439.5 387.6L440.7 387.9L441.8 387.6L443.0 386.3L444.2 384.7L445.4 383.3L446.7 382.7L447.9 382.9L449.2 383.8L450.5 385.1L451.8 386.1L453.2 386.4L454.6 386.1L456.0 385.6L457.4 385.4L458.9 385.9L460.4 386.8L462.0 387.5L463.5 387.7" stroke="#000" stroke-width="1.45"/>
<path d="M62.6 389.4L62.7 384.5L62.9 389.4L63.0 383.9L63.1 384.7L63.2 389.4L63.6 389.4L63.6 385.6L63.7 389.4L63.8 384.9L64.1 389.4L64.2 384.5L64.3 383.1L64.4 389.3L64.7 389.4L64.8 386.4L65.0 389.4L65.0 384.6L65.2 385.4L65.3 389.4L65.5 383.6L65.7 389.3L65.9 389.4L66.0 382.4L66.1 383.1L66.2 389.3L66.6 385.1L66.6 389.4L66.7 388.7L66.8 383.2L67.1 386.1L67.2 389.4L67.4 380.1L67.5 388.8L67.6 389.4L67.8 384.6L67.9 389.4L68.1 383.4L68.2 385.4L68.3 389.4L68.5 389.4L68.7 379.9L68.9 389.3L69.0 381.7L69.1 379.9L69.3 389.3L69.4 384.0L69.5 389.3L69.8 386.1L69.9 389.4L70.1 389.4L70.2 382.4L70.4 389.4L70.5 382.8L70.6 387.2L70.6 389.4L71.0 384.4L71.0 389.2L71.4 383.8L71.4 389.4L71.5 389.4L71.7 378.7L71.8 379.1L72.0 389.1L72.2 383.5L72.3 389.0L72.4 388.8L72.5 384.7L72.7 389.4L72.9 383.9L73.0 382.5L73.2 389.1L73.5 389.0L73.5 384.8L73.7 389.4L73.8 383.1L74.0 381.9L74.0 389.4L74.3 389.4L74.4 380.4L74.5 389.4L74.5 385.1L74.9 389.4L74.9 386.1L75.1 389.4L75.2 379.1L75.4 383.2L75.6 389.0L75.7 389.4L75.9 383.9L76.1 383.0L76.2 389.2L76.3 389.4L76.4 382.9L76.6 389.4L76.6 381.9L76.9 383.4L77.0 389.3L77.2 389.0L77.3 381.0L77.5 380.8L77.7 389.4L77.8 388.8L77.9 383.3L78.1 382.8L78.3 389.3L78.5 380.2L78.6 389.1L78.7 382.8L78.8 389.3L79.1 386.9L79.2 389.4L79.4 380.2L79.5 389.4L79.7 389.4L79.7 383.1L80.0 389.4L80.1 382.4L80.2 389.4L80.3 381.0L80.6 389.4L80.7 385.9L80.8 381.8L81.0 389.1L81.1 384.1L81.3 389.4L81.4 389.2L81.6 380.0L81.7 380.9L81.9 389.0L82.0 389.4L82.1 385.6L82.3 383.5L82.5 389.4L82.8 384.4L82.8 389.4L82.9 387.8L83.0 389.4L83.2 389.4L83.3 376.3L83.6 389.4L83.7 384.5L83.9 384.4L84.0 389.4L84.1 389.4L84.2 382.5L84.5 389.3L84.6 382.9L84.8 389.4L84.9 387.3L85.0 388.9L85.2 385.8L85.4 389.3L85.5 386.1L85.6 382.2L85.8 389.4L85.9 386.5L85.9 389.4L86.2 386.1L86.2 389.4L86.5 382.9L86.7 388.9L86.9 382.7L87.0 389.4L87.1 389.4L87.3 381.5L87.4 389.2L87.4 382.6L87.8 389.4L87.9 377.8L88.0 380.0L88.1 389.3L88.3 389.2L88.4 383.7L88.6 384.9L88.6 389.3L88.9 389.1L89.0 380.4L89.3 389.4L89.3 383.6L89.5 386.1L89.7 389.4L89.8 384.9L89.9 389.4L90.1 385.9L90.3 389.4L90.4 389.2L90.5 385.8L90.7 389.4L90.9 385.7L91.0 384.0L91.2 389.4L91.4 389.2L91.5 382.2L91.6 384.6L91.8 389.2L91.9 389.4L92.1 387.5L92.2 389.2L92.3 384.0L92.5 386.4L92.5 389.4L92.9 386.7L92.9 389.4L93.1 389.4L93.3 387.1L93.4 380.6L93.6 389.4L93.8 389.4L93.9 384.0L94.0 383.4L94.1 389.3L94.3 389.4L94.5 385.7L94.6 389.1L94.7 386.4L95.0 384.3L95.0 389.4L95.3 389.4L95.4 387.0L95.5 386.5L95.6 389.3L95.8 389.4L96.0 386.3L96.1 385.7L96.3 389.4L96.4 386.2L96.6 389.4L96.8 389.4L96.8 384.4L97.1 388.6L97.2 383.3L97.3 385.3L97.4 389.3L97.7 383.2L97.7 389.3L97.9 389.4L98.1 382.5L98.2 389.4L98.3 385.1L98.5 385.0L98.6 389.4L98.9 381.3L99.0 389.4L99.1 381.1L99.2 389.4L99.4 384.3L99.5 389.4L99.7 389.4L99.8 386.5L100.0 389.4L100.1 385.0L100.5 386.4L100.5 389.4L100.6 389.4L100.7 384.7L101.0 389.4L101.0 386.3L101.3 389.3L101.4 386.3L101.6 384.7L101.6 389.4L101.8 389.4L101.8 387.6L102.1 389.4L102.3 384.8L102.4 385.1L102.6 389.4L102.8 389.4L102.9 387.1L103.0 385.9L103.0 389.4L103.4 387.0L103.5 389.4L103.6 387.0L103.8 389.3L103.9 389.4L104.0 384.3L104.2 387.6L104.4 389.4L104.6 386.1L104.7 389.4L104.9 389.4L105.0 387.6L105.1 389.4L105.3 385.8L105.4 384.8L105.6 389.4L105.8 389.4L105.9 385.2L106.0 385.4L106.2 389.4L106.3 389.4L106.5 388.1L106.7 389.4L106.8 385.6L106.9 386.3L107.0 389.2L107.2 386.5L107.4 389.4L107.6 389.4L107.7 388.4L107.8 389.4L107.9 386.5L108.1 389.3L108.3 387.8L108.5 386.6L108.6 389.4L108.7 389.4L108.8 387.6L109.2 389.4L109.2 385.5L109.3 389.4L109.4 385.3L109.6 382.7L109.8 389.1L110.0 389.4L110.1 382.8L110.4 384.7L110.4 389.4L110.5 389.4L110.5 385.3L110.8 382.8L110.9 389.3L111.2 386.7L111.2 389.0L111.4 389.4L111.5 386.4L111.8 383.7L111.9 389.2L112.0 389.4L112.1 381.8L112.4 385.2L112.5 389.4L112.7 386.7L112.8 389.4L112.9 384.5L113.1 389.4L113.3 389.4L113.4 387.8L113.5 389.4L113.6 387.1L113.8 389.3L114.0 382.6L114.1 389.2L114.3 385.2L114.5 389.4L114.6 382.9L114.7 389.4L114.8 386.1L115.1 389.4L115.2 385.6L115.3 386.7L115.5 389.0L115.8 389.4L115.8 386.2L115.9 385.5L116.1 388.9L116.4 388.0L116.4 389.4L116.5 389.4L116.7 386.5L116.8 389.4L117.0 386.5L117.2 389.4L117.3 387.1L117.5 389.4L117.6 387.1L117.9 389.4L117.9 386.0L118.0 382.3L118.2 389.4L118.3 389.3L118.5 387.9L118.6 389.4L118.7 386.1L118.9 389.4L119.1 387.2L119.2 386.8L119.4 389.3L119.6 389.0L119.7 385.3L119.8 389.4L120.0 388.7L120.2 389.2L120.3 386.7L120.4 384.8L120.5 389.3L120.8 388.0L120.9 389.4L121.0 386.8L121.1 389.4L121.4 389.4L121.5 387.0L121.7 389.4L121.8 386.9L122.0 389.4L122.1 385.9L122.2 386.1L122.2 389.4L122.5 389.3L122.7 385.7L122.8 386.2L123.0 389.2L123.1 389.1L123.2 387.7L123.6 386.6L123.6 389.4L123.9 386.6L123.9 389.4L124.1 385.7L124.2 389.4L124.4 384.2L124.5 389.4L124.7 384.2L124.8 389.2L124.9 382.1L125.1 389.4L125.3 385.8L125.4 389.4L125.5 381.5L125.7 389.3L125.8 386.2L125.9 389.4L126.3 389.0L126.3 383.8L126.4 382.6L126.5 389.1L126.7 389.2L126.9 387.0L127.1 386.5L127.2 389.4L127.4 386.1L127.5 389.4L127.7 383.4L127.8 389.4L127.9 389.4L128.0 381.9L128.2 389.4L128.4 382.7L128.5 385.8L128.6 389.4L128.9 389.4L129.0 384.0L129.1 382.9L129.3 388.8L129.4 386.4L129.5 389.3L129.7 385.8L129.8 389.4L130.1 389.4L130.2 386.5L130.4 381.9L130.5 388.7L130.6 389.4L130.6 386.2L130.9 389.3L131.1 379.8L131.4 388.8L131.4 384.2L131.5 385.4L131.7 389.1L131.8 389.3L132.0 384.9L132.2 389.1L132.3 386.9L132.4 386.8L132.6 389.4L132.7 389.4L132.8 387.3L133.0 386.3L133.2 389.3L133.4 385.5L133.5 388.9L133.6 389.3L133.8 387.7L133.9 387.5L134.1 389.3L134.3 383.9L134.3 388.7L134.5 388.6L134.6 383.8L134.9 389.4L135.0 387.3L135.1 384.9L135.2 388.2L135.4 387.9L135.5 379.0L135.7 386.0L135.8 389.0L136.1 385.3L136.2 388.1L136.3 388.7L136.5 384.8L136.6 386.0L136.7 389.2L136.9 389.2L137.0 385.2L137.2 389.3L137.4 386.6L137.6 389.1L137.7 386.5L137.8 389.3L137.9 387.2L138.2 388.5L138.3 386.8L138.5 388.1L138.6 383.0L138.7 384.4L138.7 388.6L139.0 386.2L139.2 389.0L139.4 386.5L139.5 389.4L139.6 388.2L139.8 389.4L139.9 389.1L140.0 386.3L140.2 389.0L140.3 384.1L140.5 385.6L140.7 389.2L140.9 385.6L141.0 389.1L141.1 386.7L141.2 389.4L141.4 389.4L141.5 387.7L141.7 388.9L141.9 385.3L142.0 385.4L142.1 389.4L142.3 386.3L142.5 389.4L142.6 389.4L142.7 386.8L142.9 389.2L143.1 387.0L143.2 389.4L143.3 386.8L143.5 385.2L143.6 389.3L143.9 385.4L143.9 389.4L144.1 389.4L144.3 387.0L144.5 384.3L144.6 389.3L144.7 387.6L144.7 389.4L145.0 387.5L145.2 389.4L145.3 389.2L145.5 382.1L145.6 384.6L145.7 389.4L145.9 389.3L146.0 386.1L146.3 389.2L146.4 384.5L146.5 386.2L146.6 389.4L146.9 389.3L146.9 387.8L147.2 389.4L147.3 384.3L147.4 383.9L147.6 389.3L147.8 386.1L147.9 389.4L148.0 389.1L148.2 382.9L148.4 389.4L148.5 387.2L148.6 383.0L148.8 389.4L149.0 388.7L149.1 380.1L149.2 380.6L149.4 389.4L149.5 389.4L149.6 387.5L149.8 389.4L150.0 380.8L150.1 381.1L150.3 388.4L150.5 384.1L150.6 388.8L150.7 388.9L150.9 385.1L151.0 388.4L151.1 389.4L151.4 389.3L151.5 386.6L151.6 388.6L151.8 382.7L151.9 385.9L152.1 389.4L152.2 386.0L152.3 389.2L152.5 389.1L152.7 382.8L152.8 377.2L153.0 387.5L153.2 382.5L153.3 387.9L153.4 389.4L153.6 387.0L153.8 389.4L153.9 387.8L154.0 387.4L154.2 389.3L154.3 389.0L154.5 385.0L154.6 385.2L154.8 389.4L155.1 389.4L155.1 389.1L155.2 389.4L155.4 384.6L155.5 383.9L155.6 386.2L155.8 386.7L156.0 382.2L156.1 385.9L156.3 389.2L156.4 386.8L156.5 389.4L156.7 389.4L156.9 387.7L157.0 386.8L157.1 381.8L157.4 384.7L157.5 376.1L157.6 378.8L157.8 386.6L157.9 386.0L158.1 389.1L158.2 388.7L158.3 380.7L158.5 388.3L158.7 385.7L158.9 378.5L159.0 385.5L159.1 384.3L159.3 388.4L159.4 387.6L159.5 382.8L159.7 383.1L159.9 388.7L160.0 388.6L160.2 381.0L160.3 383.1L160.5 388.0L160.6 384.6L160.8 388.0L160.9 385.5L161.1 389.1L161.2 387.3L161.3 389.4L161.5 385.5L161.6 388.6L161.8 389.2L162.0 385.6L162.2 383.8L162.3 389.0L162.4 389.1L162.6 386.2L162.7 384.0L162.9 387.3L163.0 388.7L163.2 381.2L163.3 380.9L163.5 386.2L163.6 387.2L163.8 382.6L163.9 384.1L164.0 389.1L164.3 388.3L164.4 389.4L164.5 389.4L164.7 387.0L164.8 386.5L164.9 389.4L165.1 387.0L165.2 384.5L165.5 387.4L165.6 383.1L165.8 380.1L165.9 386.6L166.0 384.5L166.2 388.4L166.3 386.9L166.5 388.4L166.7 387.9L166.8 388.6L166.9 389.2L167.1 383.5L167.2 386.3L167.4 389.0L167.6 389.4L167.7 385.3L167.9 387.4L168.0 384.6L168.1 386.4L168.2 389.3L168.4 386.6L168.5 384.6L168.7 386.5L168.9 389.4L169.0 389.4L169.1 384.8L169.3 385.6L169.5 389.4L169.6 389.4L169.7 386.3L170.0 385.9L170.1 389.0L170.3 386.4L170.4 389.4L170.5 389.3L170.7 387.4L170.9 389.4L171.0 386.2L171.1 387.5L171.2 389.0L171.4 388.4L171.5 384.1L171.8 387.6L171.9 389.0L172.0 388.9L172.2 386.2L172.4 388.3L172.5 388.8L172.6 388.0L172.8 389.4L172.9 389.4L173.1 382.2L173.2 382.1L173.4 387.4L173.5 389.4L173.7 387.6L173.9 386.5L174.0 388.6L174.1 387.7L174.3 389.4L174.4 389.0L174.6 386.4L174.7 388.3L174.7 389.2L175.0 389.3L175.2 389.0L175.3 388.5L175.4 389.1L175.6 389.3L175.8 387.7L175.9 388.0L176.0 381.2L176.2 385.2L176.3 387.8L176.5 389.1L176.7 385.7L176.8 389.4L177.0 386.8L177.2 385.8L177.3 389.4L177.4 388.4L177.6 389.4L177.7 389.3L177.9 381.2L178.1 384.3L178.2 388.8L178.3 388.0L178.4 386.6L178.6 385.0L178.7 380.6L178.9 384.0L179.1 389.2L179.2 389.3L179.4 388.5L179.5 387.3L179.7 389.4L179.8 389.2L180.0 383.2L180.1 381.2L180.3 389.3L180.4 389.4L180.5 388.0L180.8 385.4L180.9 388.6L181.0 388.9L181.2 386.3L181.3 386.4L181.5 387.7L181.6 386.6L181.7 389.0L182.0 386.8L182.1 389.4L182.2 385.0L182.4 389.3L182.5 388.8L182.6 385.0L182.8 385.3L183.0 387.8L183.2 386.6L183.3 389.3L183.5 389.1L183.6 384.6L183.7 386.4L183.8 389.4L184.0 387.5L184.2 380.2L184.4 376.4L184.5 384.6L184.6 385.4L184.8 388.5L185.0 384.8L185.1 388.8L185.3 389.4L185.4 385.5L185.5 384.0L185.7 388.0L185.8 388.1L186.0 386.7L186.1 386.8L186.3 388.8L186.5 388.9L186.6 388.1L186.8 388.8L186.9 387.5L187.1 384.4L187.2 388.1L187.4 387.7L187.5 389.2L187.7 388.8L187.8 389.4L188.0 388.9L188.1 389.4L188.2 388.1L188.4 384.6L188.6 381.9L188.7 385.0L188.8 385.8L189.0 378.5L189.1 379.5L189.2 386.1L189.4 382.6L189.6 388.1L189.7 387.9L189.8 389.0L190.1 384.3L190.2 388.2L190.3 389.4L190.5 388.5L190.7 388.9L190.8 387.8L190.9 387.4L191.1 377.8L191.2 377.4L191.4 379.6L191.6 382.6L191.7 371.1L191.8 369.4L192.0 379.7L192.1 379.3L192.3 385.2L192.4 385.5L192.6 388.2L192.7 388.3L192.9 386.0L193.0 384.4L193.1 379.5L193.3 381.0L193.4 388.4L193.7 389.1L193.8 387.3L193.9 386.0L194.1 378.3L194.2 377.7L194.3 385.8L194.5 380.1L194.7 387.8L194.8 387.8L195.0 385.1L195.1 383.8L195.2 381.4L195.4 382.2L195.6 385.8L195.7 387.1L195.8 389.1L196.0 387.8L196.2 375.8L196.3 381.7L196.5 385.0L196.6 386.1L196.7 388.3L196.9 386.6L197.1 388.5L197.2 388.6L197.4 387.6L197.6 385.4L197.7 388.9L197.8 388.4L197.9 383.5L198.2 387.4L198.3 389.3L198.4 388.8L198.5 385.4L198.8 387.3L198.9 388.4L199.1 389.2L199.2 383.2L199.3 383.1L199.5 388.9L199.7 383.7L199.8 388.5L200.0 389.4L200.1 386.7L200.3 386.0L200.4 385.1L200.5 385.3L200.6 387.8L200.8 386.2L201.0 389.4L201.1 389.3L201.3 383.0L201.4 382.0L201.5 377.9L201.7 382.9L201.9 386.1L202.1 386.5L202.2 384.3L202.3 383.5L202.5 380.8L202.6 381.8L202.8 386.7L202.9 386.4L203.1 389.4L203.2 389.3L203.3 389.0L203.5 389.0L203.7 388.5L203.8 388.9L204.0 385.3L204.1 383.8L204.3 389.0L204.4 388.5L204.6 385.8L204.7 385.8L204.9 384.9L205.1 385.6L205.2 384.8L205.3 385.0L205.4 385.3L205.6 385.3L205.8 378.9L205.9 376.5L206.1 387.1L206.2 386.4L206.3 383.3L206.5 387.2L206.7 386.0L206.8 386.7L206.9 388.0L207.1 387.4L207.3 388.2L207.4 388.1L207.6 388.9L207.7 388.9L207.9 388.5L208.0 387.9L208.2 381.0L208.3 383.6L208.4 387.0L208.6 386.3L208.8 388.7L208.9 388.9L209.1 389.4L209.2 389.0L209.4 386.6L209.5 388.3L209.7 384.9L209.8 384.7L210.0 388.3L210.2 389.2L210.3 388.6L210.4 388.2L210.6 385.8L210.7 385.6L210.9 386.8L211.0 387.0L211.2 385.6L211.3 386.4L211.5 389.4L211.6 389.4L211.8 382.0L212.0 381.9L212.1 380.8L212.2 381.2L212.4 389.0L212.6 389.3L212.7 388.4L212.8 388.0L213.0 383.5L213.1 383.6L213.2 386.3L213.4 385.6L213.6 388.6L213.7 389.0L213.9 388.0L214.0 388.0L214.2 389.4L214.4 389.2L214.5 388.0L214.7 386.2L214.8 387.9L214.9 386.9L215.1 389.1L215.2 389.1L215.4 385.6L215.5 387.3L215.6 388.3L215.8 387.1L216.0 386.3L216.1 385.1L216.3 379.6L216.4 381.3L216.6 385.2L216.7 386.5L216.8 388.3L217.0 387.6L217.2 386.2L217.3 386.3L217.5 382.8L217.6 383.2L217.8 387.5L217.9 387.5L218.1 389.3L218.2 389.1L218.3 388.3L218.5 388.5L218.6 387.8L218.8 388.4L219.0 389.4L219.1 388.9L219.3 384.6L219.4 384.5L219.6 386.9L219.7 387.0L219.9 388.8L220.0 389.3L220.2 387.3L220.4 387.0L220.5 385.7L220.6 385.1L220.8 387.7L220.9 388.1L221.1 389.3L221.2 389.4L221.4 388.8L221.5 389.3L221.7 388.4L221.8 388.8L221.9 389.4L222.1 388.8L222.3 388.2L222.4 388.6L222.5 389.2L222.7 388.7L222.9 389.2L223.1 389.4L223.2 389.0L223.3 388.7L223.4 388.2L223.6 388.5L223.8 388.9L224.0 389.2L224.1 388.8L224.2 388.6L224.4 388.9L224.5 388.1L224.6 385.6L224.9 387.3L225.0 384.5L225.2 381.7L225.3 384.9L225.4 385.8L225.6 386.2L225.7 386.3L225.9 388.7L226.0 389.1L226.2 388.5L226.4 387.5L226.5 388.1L226.6 388.5L226.8 389.1L226.9 388.9L227.0 388.6L227.2 388.9L227.4 388.0L227.5 387.8L227.7 388.8L227.8 388.7L228.0 387.1L228.1 387.6L228.3 389.1L228.4 389.1L228.6 384.4L228.7 382.2L228.8 379.9L229.0 383.7L229.2 381.9L229.3 382.1L229.5 387.3L229.6 388.0L229.8 388.9L229.9 388.3L230.1 387.3L230.2 386.9L230.4 384.6L230.5 384.8L230.7 384.4L230.9 384.7L231.0 384.8L231.1 384.8L231.3 388.3L231.4 389.0L231.6 389.2L231.7 389.2L231.9 388.4L232.0 388.3L232.2 386.3L232.3 386.0L232.5 387.5L232.7 387.6L232.8 388.2L232.9 388.7L233.0 389.2L233.2 389.0L233.4 386.0L233.5 384.7L233.6 382.8L233.8 384.9L234.0 387.8L234.1 388.4L234.2 389.0L234.4 388.6L234.6 389.2L234.7 389.4L234.9 388.5L235.0 388.2L235.2 389.0L235.3 389.4L235.5 389.1L235.6 389.0L235.8 387.5L235.9 386.9L236.0 386.5L236.2 387.4L236.3 388.6L236.5 388.2L236.7 386.7L236.8 386.9L237.0 388.3L237.1 388.2L237.3 389.1L237.4 389.4L237.6 388.1L237.8 389.2L237.9 387.9L238.0 386.6L238.1 385.4L238.3 387.2L238.5 389.2L238.6 389.0L238.8 389.4L238.9 388.8L239.1 387.7L239.2 387.6L239.4 388.4L239.5 387.8L239.7 385.3L239.8 385.0L240.0 386.6L240.1 386.6L240.3 387.9L240.4 388.7L240.5 389.4L240.7 388.6L240.9 389.3L241.0 388.9L241.2 385.3L241.3 385.8L241.5 388.8L241.6 389.1L241.8 388.3L241.9 388.6L242.0 389.0L242.2 388.7L242.4 387.1L242.5 386.2L242.7 383.5L242.8 382.6L243.0 380.5L243.1 380.9L243.3 384.3L243.4 385.4L243.6 388.4L243.7 388.9L243.9 389.2L244.1 389.4L244.2 389.2L244.3 388.8L244.4 388.3L244.6 388.9L244.7 389.4L244.9 389.1L245.1 389.3L245.2 389.1L245.4 387.1L245.5 386.3L245.7 384.7L245.8 384.2L245.9 383.4L246.1 384.9L246.3 387.5L246.4 387.3L246.6 385.8L246.7 385.6L246.9 386.9L247.0 387.4L247.2 388.2L247.3 388.2L247.5 387.9L247.6 387.8L247.7 387.6L247.9 387.7L248.0 387.6L248.2 387.7L248.4 387.8L248.6 387.8L248.7 387.7L248.8 387.5L249.0 386.2L249.1 385.6L249.2 384.8L249.4 385.2L249.6 388.0L249.8 388.8L249.9 387.3L250.0 386.2L250.1 385.2L250.3 386.6L250.5 389.1L250.6 389.2L250.8 388.3L250.9 388.3L251.1 388.9L251.2 389.2L251.3 389.4L251.5 389.0L251.6 388.7L251.9 389.2L252.0 389.0L252.1 388.6L252.3 387.9L252.4 388.1L252.6 388.9L252.7 388.7L252.9 387.9L253.0 387.4L253.2 386.9L253.3 387.1L253.5 388.2L253.7 388.8L253.8 388.3L253.9 387.4L254.1 384.9L254.3 383.8L254.4 385.8L254.5 387.1L254.7 388.5L254.8 388.0L255.0 387.3L255.1 387.2L255.3 388.0L255.4 388.3L255.6 388.8L255.7 388.3L255.9 387.4L256.0 387.2L256.2 387.7L256.3 387.9L256.5 387.1L256.6 386.1L256.8 383.0L256.9 382.8L257.1 384.3L257.2 385.5L257.4 388.3L257.6 388.8L257.7 388.7L257.8 388.5L258.0 388.1L258.1 388.1L258.3 388.8L258.4 389.4L258.6 388.8L258.7 388.1L258.9 386.8L259.0 386.6L259.2 387.0L259.3 386.5L259.5 384.9L259.6 384.2L259.8 383.0L259.9 383.0L260.1 382.7L260.2 382.7L260.4 385.5L260.5 386.6L260.7 387.4L260.8 387.0L261.0 385.3L261.1 384.3L261.3 382.1L261.4 381.9L261.6 382.8L261.7 383.5L261.9 384.6L262.0 385.1L262.2 385.8L262.3 385.5L262.5 385.8L262.6 386.1L262.8 387.2L262.9 387.9L263.1 388.9L263.3 389.2L263.4 389.0L263.5 389.0L263.6 389.1L263.8 388.9L264.0 387.9L264.1 387.3L264.3 386.9L264.4 386.8L264.6 386.6L264.7 386.7L264.9 385.5L265.0 385.2L265.2 384.8L265.3 385.0L265.5 385.9L265.6 387.1L265.8 388.1L265.9 388.0L266.1 387.7L266.2 387.7L266.4 388.4L266.5 388.7L266.7 389.2L266.8 389.4L267.0 388.6L267.1 388.0L267.3 386.8L267.4 386.0L267.6 382.7L267.7 380.8L267.9 379.0L268.0 379.8L268.2 384.8L268.4 387.4L268.5 386.4L268.6 384.7L268.8 382.6L268.9 382.8L269.1 385.1L269.2 386.5L269.4 388.3L269.6 388.6L269.7 388.5L269.9 388.3L270.0 388.4L270.1 388.4L270.3 388.1L270.4 387.9L270.6 387.6L270.8 387.4L270.9 387.2L271.0 387.1L271.2 387.3L271.3 387.1L271.4 386.9L271.6 387.2L271.8 387.3L272.0 387.2L272.1 387.4L272.2 388.0L272.4 389.4L272.5 389.3L272.7 386.9L272.8 385.6L272.9 385.1L273.2 386.8L273.3 388.9L273.4 386.5L273.6 379.3L273.7 378.4L273.9 380.4L274.0 383.5L274.2 387.7L274.3 388.2L274.5 387.6L274.7 387.1L274.8 387.1L274.9 387.6L275.1 388.8L275.2 389.2L275.4 389.3L275.5 389.3L275.6 389.3L275.8 389.4L276.0 389.4L276.1 389.4L276.3 389.4L276.4 389.4L276.6 389.4L276.8 389.3L276.9 389.3L277.0 389.2L277.1 389.1L277.4 389.2L277.5 389.0L277.7 388.6L277.8 387.7L277.9 386.5L278.1 384.2L278.2 383.8L278.3 384.2L278.5 385.6L278.7 388.2L278.8 387.0L279.0 382.2L279.1 380.4L279.3 379.9L279.4 381.0L279.6 385.7L279.7 387.4L279.8 388.2L280.1 388.3L280.2 388.4L280.3 388.9L280.5 389.4L280.7 389.0L280.8 388.3L280.9 387.7L281.0 387.4L281.3 387.9L281.4 388.1L281.5 388.1L281.7 387.8L281.9 387.8L282.0 388.0L282.1 388.0L282.3 387.6L282.5 387.3L282.6 387.3L282.7 387.6L282.9 388.4L283.1 388.4L283.2 388.0L283.3 387.0L283.4 386.1L283.6 385.6L283.8 385.3L283.9 385.8L284.1 386.9L284.2 388.0L284.4 389.4L284.6 389.4L284.7 389.1L284.8 388.6L284.9 388.3L285.1 388.2L285.3 388.7L285.4 389.1L285.6 389.2L285.7 389.0L285.9 388.7L286.1 388.6L286.2 388.7L286.3 388.8L286.5 388.7L286.6 388.3L286.8 387.4L287.0 387.3L287.1 387.3L287.2 387.4L287.4 387.7L287.5 388.0L287.7 388.8L287.9 389.1L288.0 389.2L288.1 389.1L288.3 388.9L288.4 388.5L288.5 388.4L288.7 388.5L288.9 389.2L289.1 389.3L289.2 388.8L289.3 388.1L289.5 387.4L289.6 386.9L289.7 386.7L289.9 386.8L290.0 386.9L290.3 386.5L290.4 386.2L290.5 386.0L290.7 385.8L290.8 385.5L291.0 385.1L291.1 384.4L291.2 383.4L291.5 382.7L291.6 383.3L291.8 384.5L291.9 386.0L292.1 387.4L292.2 388.2L292.3 388.5L292.5 388.2L292.6 387.6L292.8 386.9L292.9 386.4L293.0 386.3L293.2 386.4L293.3 386.5L293.5 386.6L293.6 386.7L293.8 386.6L294.0 385.5L294.2 384.5L294.3 383.6L294.5 382.8L294.6 381.8L294.8 380.9L294.9 380.2L295.0 380.2L295.2 380.9L295.3 382.1L295.5 383.6L295.6 384.9L295.8 385.7L295.9 385.7L296.1 385.3L296.2 384.8L296.4 384.6L296.5 384.8L296.7 385.5L296.8 386.5L297.0 387.5L297.1 388.0L297.3 388.2L297.4 388.2L297.6 388.1L297.7 388.0L297.9 388.0L298.0 388.1L298.2 388.3L298.3 388.5L298.5 388.8L298.6 388.9L298.8 388.8L298.9 388.3L299.1 387.5L299.2 386.6L299.4 385.8L299.5 385.5L299.7 385.8L299.8 386.6L300.0 387.7L300.2 388.6L300.3 389.0L300.5 388.8L300.6 388.1L300.8 387.3L300.9 386.6L301.1 386.2L301.3 386.2L301.4 386.6L301.6 387.3L301.7 388.1L301.9 388.8L302.1 389.2L302.2 389.4L302.4 389.4L302.5 389.1L302.7 388.8L302.9 388.3L303.0 387.9L303.2 387.5L303.3 387.4L303.5 387.4L303.7 387.6L303.8 387.7L304.0 387.8L304.2 387.9L304.3 387.8L304.5 387.6L304.7 387.3L304.8 387.1L305.0 387.2L305.2 387.5L305.3 387.7L305.5 387.8L305.7 387.6L305.8 387.2L306.0 386.7L306.2 386.2L306.3 385.9L306.5 385.9L306.7 386.1L306.9 386.6L307.0 387.2L307.2 387.7L307.4 387.8L307.6 387.1L307.7 385.7L307.9 383.8L308.1 381.6L308.2 379.7L308.4 378.9L308.6 379.8L308.8 382.1L309.0 384.8L309.1 386.9L309.3 387.7L309.5 387.2L309.7 385.6L309.8 383.8L310.0 382.4L310.2 381.9L310.4 382.1L310.6 382.8L310.7 383.8L310.9 384.8L311.1 385.3L311.3 385.6L311.5 385.6L311.7 385.7L311.8 385.8L312.0 386.1L312.2 386.4L312.4 386.8L312.6 387.0L312.8 387.0L313.0 386.7L313.1 386.2L313.3 385.8L313.5 385.5L313.7 385.4L313.9 385.6L314.1 386.0L314.3 386.4L314.5 386.8L314.7 387.2L314.8 387.6L315.0 387.9L315.2 388.1L315.4 388.3L315.6 388.3L315.8 388.1L316.0 387.8L316.2 387.2L316.4 386.5L316.6 385.9L316.8 385.6L317.0 385.7L317.2 386.1L317.4 386.7L317.6 387.1L317.8 387.1L318.0 386.4L318.2 385.0L318.4 383.1L318.6 381.3L318.8 380.2L319.0 380.1L319.2 381.0L319.4 382.3L319.6 383.6L319.8 384.6L320.0 385.0L320.2 385.2L320.4 385.4L320.7 386.1L320.9 387.0L321.1 387.8L321.3 388.3L321.5 388.5L321.7 388.4L321.9 388.3L322.1 388.4L322.3 388.8L322.6 389.2L322.8 389.4L323.0 389.4L323.2 389.3L323.4 389.2L323.6 389.3L323.9 389.4L324.1 389.3L324.3 389.1L324.5 388.9L324.7 388.9L325.0 389.0L325.2 389.3L325.4 389.3L325.6 388.8L325.8 387.8L326.1 386.5L326.3 385.1L326.5 383.7L326.8 382.4L327.0 381.3L327.2 380.3L327.4 379.5L327.7 379.1L327.9 379.7L328.1 381.2L328.4 383.0L328.6 384.6L328.8 385.7L329.1 386.4L329.3 386.8L329.5 387.1L329.8 387.5L330.0 387.8L330.3 387.9L330.5 387.9L330.7 387.7L331.0 387.4L331.2 386.9L331.5 386.4L331.7 386.1L331.9 385.9L332.2 386.1L332.4 386.6L332.7 387.3L332.9 387.9L333.2 388.1L333.4 387.5L333.7 386.3L333.9 385.1L334.2 384.1L334.4 384.0L334.7 384.7L334.9 386.0L335.2 387.3L335.5 388.4L335.7 389.1L336.0 389.3L336.2 389.3L336.5 389.3L336.8 389.4L337.0 389.3L337.3 388.8L337.6 387.6L337.8 385.6L338.1 383.6L338.4 381.7L338.6 380.2L338.9 379.2L339.2 378.5L339.4 377.6L339.7 376.4L340.0 375.6L340.3 376.0L340.5 377.6L340.8 380.2L341.1 383.4L341.4 386.3L341.7 387.9L341.9 388.4L342.2 388.1L342.5 387.9L342.8 388.2L343.1 388.7L343.4 389.3L343.6 389.3L343.9 388.8L344.2 387.9L344.5 387.0L344.8 386.3L345.1 385.6L345.4 384.8L345.7 383.9L346.0 382.6L346.3 381.2L346.6 380.5L346.9 380.2L347.2 380.4L347.5 381.2L347.8 382.6L348.1 384.2L348.4 385.7L348.7 386.9L349.1 387.6L349.4 387.9L349.7 388.2L350.0 388.6L350.3 389.0L350.6 389.3L351.0 389.2L351.3 388.5L351.6 387.5L351.9 386.5L352.3 386.1L352.6 386.4L352.9 387.0L353.2 387.3L353.6 387.2L353.9 386.6L354.2 386.0L354.6 385.8L354.9 386.3L355.3 387.2L355.6 388.2L355.9 388.6L356.3 388.1L356.6 386.8L357.0 384.8L357.3 382.8L357.7 381.6L358.0 381.7L358.4 382.9L358.8 384.8L359.1 386.4L359.5 387.2L359.8 387.1L360.2 386.9L360.6 387.1L360.9 387.9L361.3 388.8L361.7 389.3L362.1 389.0L362.4 387.9L362.8 386.6L363.2 385.8L363.6 385.6L364.0 386.0L364.4 386.8L364.7 387.6L365.1 388.1L365.5 388.2L365.9 387.9L366.3 387.1L366.7 385.9L367.1 384.8L367.5 384.1L367.9 383.9L368.3 384.1L368.8 384.1L369.2 382.7L369.6 379.1L370.0 374.8L370.4 371.8L370.9 370.1L371.3 369.1L371.7 369.0L372.1 369.8L372.6 370.4L373.0 370.2L373.5 370.2L373.9 372.0L374.3 375.5L374.8 379.4L375.2 383.0L375.7 385.5L376.2 387.0L376.6 387.5L377.1 387.1L377.6 386.0L378.0 384.5L378.5 382.7L379.0 380.8L379.4 379.0L379.9 377.8L380.4 377.8L380.9 378.6L381.4 379.1L381.9 378.4L382.4 376.6L382.9 374.6L383.4 373.3L383.9 373.6L384.4 375.6L385.0 378.8L385.5 381.7L386.0 383.4L386.5 384.1L387.1 384.6L387.6 385.4L388.1 386.7L388.7 388.1L389.2 389.1L389.8 389.4L390.4 389.0L390.9 388.5L391.5 388.3L392.1 388.3L392.6 388.0L393.2 387.2L393.8 385.3L394.4 382.6L395.0 380.5L395.6 380.0L396.2 380.4L396.8 380.9L397.4 381.8L398.1 383.1L398.7 383.9L399.3 384.3L400.0 385.0L400.6 385.6L401.3 385.5L401.9 384.6L402.6 382.7L403.3 380.9L403.9 380.6L404.6 381.1L405.3 381.6L406.0 382.3L406.7 383.5L407.4 384.3L408.2 385.0L408.9 386.3L409.6 387.8L410.4 388.9L411.1 389.4L411.9 389.4L412.6 389.0L413.4 388.3L414.2 386.7L415.0 384.6L415.8 382.3L416.6 379.3L417.4 375.9L418.2 373.5L419.1 373.0L419.9 373.2L420.8 373.4L421.7 373.3L422.6 371.9L423.4 369.1L424.3 367.5L425.3 368.7L426.2 371.0L427.1 373.3L428.1 376.6L429.1 381.1L430.0 384.6L431.0 386.5L432.0 387.3L433.1 387.7L434.1 387.8L435.2 387.4L436.2 386.7L437.3 385.9L438.4 385.2L439.5 385.2L440.7 385.7L441.8 386.5L443.0 386.7L444.2 386.1L445.4 384.8L446.7 383.3L447.9 382.4L449.2 382.7L450.5 384.3L451.8 386.4L453.2 387.9L454.6 388.5L456.0 388.5L457.4 388.4L458.9 388.3L460.4 388.4L462.0 388.7L463.5 388.8" stroke="#dcdcdc" stroke-width="1.45"/>
</g>
<path d="M61.3 326.9H464" stroke="#000" stroke-width="1.5" stroke-dasharray="5.4 5.64" fill="none"/>
<path d="M141 282.9L144.3 289.4H137.7Z" fill="none" stroke="#ff0000" stroke-width="1.3"/>
<text x="58" y="273.3" font-size="15.6" text-anchor="end" textLength="15.4" lengthAdjust="spacingAndGlyphs" >40</text>
<text x="58" y="300.9" font-size="15.6" text-anchor="end" textLength="15.4" lengthAdjust="spacingAndGlyphs" >30</text>
<text x="58" y="332.2" font-size="15.6" text-anchor="end" textLength="15.4" lengthAdjust="spacingAndGlyphs" >20</text>
<text x="58" y="363.4" font-size="15.6" text-anchor="end" textLength="15.4" lengthAdjust="spacingAndGlyphs" >10</text>
<text x="58" y="390.1" font-size="15.6" text-anchor="end" textLength="7.6" lengthAdjust="spacingAndGlyphs" >0</text>
<text x="62.3" y="405.2" font-size="15.6" text-anchor="middle" textLength="19.6" lengthAdjust="spacingAndGlyphs" >0.1</text>
<text x="224.8" y="405.2" font-size="15.6" text-anchor="middle" textLength="19.6" lengthAdjust="spacingAndGlyphs" >1.0</text>
<text x="386.5" y="405.2" font-size="15.6" text-anchor="middle" textLength="27.4" lengthAdjust="spacingAndGlyphs" >10.0</text>
<text x="263.9" y="424.5" font-size="15.5" text-anchor="middle" textLength="88" lengthAdjust="spacingAndGlyphs" >Period (days)</text>
<text transform="translate(35.3 327) rotate(-90)" font-size="15.5" text-anchor="middle" textLength="41.4" lengthAdjust="spacingAndGlyphs">Power</text>
<g id="phdots">
<circle cx="64.6" cy="485.7" r="3.05"/>
<circle cx="65.1" cy="504" r="3.05"/>
<circle cx="70.9" cy="493.8" r="3.05"/>
<circle cx="76.2" cy="502.7" r="3.05"/>
<circle cx="79" cy="513.1" r="3.05"/>
<circle cx="81.1" cy="495.3" r="3.05"/>
<circle cx="84.4" cy="461.6" r="3.05"/>
<circle cx="93.5" cy="464.4" r="3.05"/>
<circle cx="89.2" cy="483.1" r="3.05"/>
<circle cx="91.7" cy="487.5" r="3.05"/>
<circle cx="89.2" cy="491.3" r="3.05"/>
<circle cx="85.4" cy="511.8" r="3.05"/>
<circle cx="87.9" cy="507.3" r="3.05"/>
<circle cx="89.2" cy="508.5" r="3.05"/>
<circle cx="91.7" cy="515.6" r="3.05"/>
<circle cx="84.1" cy="529.6" r="3.05"/>
<circle cx="101.9" cy="490.8" r="3.05"/>
<circle cx="101.9" cy="496.3" r="3.05"/>
<circle cx="100.6" cy="500.9" r="3.05"/>
<circle cx="102.6" cy="511.8" r="3.05"/>
<circle cx="100.6" cy="513.6" r="3.05"/>
<circle cx="108.7" cy="490.3" r="3.05"/>
<circle cx="110" cy="516.1" r="3.05"/>
<circle cx="110" cy="520.2" r="3.05"/>
<circle cx="115.1" cy="492.8" r="3.05"/>
<circle cx="115.8" cy="500.9" r="3.05"/>
<circle cx="118.9" cy="503.5" r="3.05"/>
<circle cx="117.9" cy="523.2" r="3.05"/>
<circle cx="115.8" cy="554.5" r="3.05"/>
<circle cx="122.7" cy="493.3" r="3.05"/>
<circle cx="120.9" cy="497.9" r="3.05"/>
<circle cx="122.2" cy="502.2" r="3.05"/>
<circle cx="127" cy="480.4" r="3.05"/>
<circle cx="128.5" cy="500.9" r="3.05"/>
<circle cx="131.8" cy="494.1" r="3.05"/>
<circle cx="131.8" cy="500.9" r="3.05"/>
<circle cx="128" cy="505.5" r="3.05"/>
<circle cx="131.1" cy="515.6" r="3.05"/>
<circle cx="143.8" cy="493.3" r="3.05"/>
<circle cx="139.9" cy="502.2" r="3.05"/>
<circle cx="147.6" cy="500.4" r="3.05"/>
<circle cx="148.8" cy="497.1" r="3.05"/>
<circle cx="150.9" cy="492" r="3.05"/>
<circle cx="139.4" cy="510.3" r="3.05"/>
<circle cx="142.5" cy="510.6" r="3.05"/>
<circle cx="145" cy="544.3" r="3.05"/>
<circle cx="157.7" cy="501.7" r="3.05"/>
<circle cx="155.9" cy="514.1" r="3.05"/>
<circle cx="162.8" cy="485.2" r="3.05"/>
<circle cx="164.1" cy="489.5" r="3.05"/>
<circle cx="165.3" cy="495.3" r="3.05"/>
<circle cx="165.3" cy="499.6" r="3.05"/>
<circle cx="161.5" cy="507.3" r="3.05"/>
<circle cx="162.3" cy="512.8" r="3.05"/>
<circle cx="160.3" cy="518.7" r="3.05"/>
<circle cx="161" cy="525" r="3.05"/>
<circle cx="170.4" cy="498.9" r="3.05"/>
<circle cx="171.7" cy="502.2" r="3.05"/>
<circle cx="177.5" cy="498.4" r="3.05"/>
<circle cx="176.8" cy="505.5" r="3.05"/>
<circle cx="180.1" cy="514.1" r="3.05"/>
<circle cx="178" cy="498.4" r="3.05"/>
<circle cx="176.3" cy="506.5" r="3.05"/>
<circle cx="180.6" cy="514.1" r="3.05"/>
<circle cx="182.1" cy="500.9" r="3.05"/>
<circle cx="187.7" cy="499.6" r="3.05"/>
<circle cx="188.2" cy="514.4" r="3.05"/>
<circle cx="194" cy="502.2" r="3.05"/>
<circle cx="197.3" cy="499.1" r="3.05"/>
<circle cx="199.9" cy="489.5" r="3.05"/>
<circle cx="194" cy="508.5" r="3.05"/>
<circle cx="196.6" cy="511.1" r="3.05"/>
<circle cx="206" cy="506.5" r="3.05"/>
<circle cx="206.7" cy="511.8" r="3.05"/>
<circle cx="209.3" cy="514.9" r="3.05"/>
<circle cx="210.5" cy="516.6" r="3.05"/>
<circle cx="213.6" cy="498.9" r="3.05"/>
<circle cx="213.1" cy="502.2" r="3.05"/>
<circle cx="214.3" cy="507.3" r="3.05"/>
<circle cx="220.7" cy="500.4" r="3.05"/>
<circle cx="225" cy="498.4" r="3.05"/>
<circle cx="222" cy="516.1" r="3.05"/>
<circle cx="225" cy="525" r="3.05"/>
<circle cx="220.7" cy="535.2" r="3.05"/>
<circle cx="227.5" cy="533.9" r="3.05"/>
<circle cx="227.8" cy="521.2" r="3.05"/>
<circle cx="232.1" cy="516.1" r="3.05"/>
<circle cx="233.4" cy="502.7" r="3.05"/>
<circle cx="235.9" cy="501.7" r="3.05"/>
<circle cx="237.2" cy="506" r="3.05"/>
<circle cx="239.7" cy="502.7" r="3.05"/>
<circle cx="243.5" cy="503.5" r="3.05"/>
<circle cx="242.3" cy="507.3" r="3.05"/>
<circle cx="241.5" cy="514.9" r="3.05"/>
<circle cx="246.1" cy="499.6" r="3.05"/>
<circle cx="249.4" cy="501.7" r="3.05"/>
<circle cx="245.6" cy="523" r="3.05"/>
<circle cx="249.9" cy="513.6" r="3.05"/>
<circle cx="254.9" cy="516.1" r="3.05"/>
<circle cx="256.2" cy="521.2" r="3.05"/>
<circle cx="260" cy="522.5" r="3.05"/>
<circle cx="261.3" cy="499.6" r="3.05"/>
<circle cx="262.6" cy="508.5" r="3.05"/>
<circle cx="260" cy="512.3" r="3.05"/>
<circle cx="263.8" cy="517.4" r="3.05"/>
<circle cx="263.8" cy="528.3" r="3.05"/>
<circle cx="265.9" cy="503.5" r="3.05"/>
<circle cx="268.4" cy="498.9" r="3.05"/>
<circle cx="268.4" cy="509.8" r="3.05"/>
<circle cx="266.4" cy="514.9" r="3.05"/>
<circle cx="270.9" cy="509" r="3.05"/>
<circle cx="272.7" cy="517.4" r="3.05"/>
<circle cx="271.4" cy="527.6" r="3.05"/>
<circle cx="270.2" cy="535.2" r="3.05"/>
<circle cx="270.9" cy="537.2" r="3.05"/>
<circle cx="275.3" cy="511.1" r="3.05"/>
<circle cx="276.5" cy="517.4" r="3.05"/>
<circle cx="281.6" cy="509" r="3.05"/>
<circle cx="282.4" cy="501.4" r="3.05"/>
<circle cx="281.1" cy="531.4" r="3.05"/>
<circle cx="284.1" cy="520.7" r="3.05"/>
<circle cx="291.8" cy="509" r="3.05"/>
<circle cx="293" cy="516.1" r="3.05"/>
<circle cx="291.3" cy="509" r="3.05"/>
<circle cx="293" cy="516.1" r="3.05"/>
<circle cx="304" cy="494.6" r="3.05"/>
<circle cx="304" cy="514.9" r="3.05"/>
<circle cx="307.8" cy="509.8" r="3.05"/>
<circle cx="312.8" cy="502.7" r="3.05"/>
<circle cx="312.3" cy="507.3" r="3.05"/>
<circle cx="312.8" cy="519.9" r="3.05"/>
<circle cx="312.8" cy="522.5" r="3.05"/>
<circle cx="318.4" cy="507.3" r="3.05"/>
<circle cx="319.9" cy="510.6" r="3.05"/>
<circle cx="328.8" cy="492" r="3.05"/>
<circle cx="326.8" cy="514.9" r="3.05"/>
<circle cx="328.1" cy="517.4" r="3.05"/>
<circle cx="331.1" cy="506.5" r="3.05"/>
<circle cx="331.9" cy="516.1" r="3.05"/>
<circle cx="331.9" cy="525" r="3.05"/>
<circle cx="336.2" cy="494.6" r="3.05"/>
<circle cx="335.7" cy="500.2" r="3.05"/>
<circle cx="339.5" cy="507.3" r="3.05"/>
<circle cx="339.5" cy="516.1" r="3.05"/>
<circle cx="337.5" cy="518.7" r="3.05"/>
<circle cx="342" cy="527.6" r="3.05"/>
<circle cx="345.1" cy="528.8" r="3.05"/>
<circle cx="346.3" cy="503.5" r="3.05"/>
<circle cx="352.2" cy="502.9" r="3.05"/>
<circle cx="353.5" cy="500.9" r="3.05"/>
<circle cx="352.7" cy="515.4" r="3.05"/>
<circle cx="360.3" cy="491.5" r="3.05"/>
<circle cx="362.3" cy="499.6" r="3.05"/>
<circle cx="361.8" cy="513.6" r="3.05"/>
<circle cx="366.9" cy="489.5" r="3.05"/>
<circle cx="366.9" cy="502.2" r="3.05"/>
<circle cx="370.7" cy="500.2" r="3.05"/>
<circle cx="370.7" cy="517.4" r="3.05"/>
<circle cx="368.7" cy="549.9" r="3.05"/>
<circle cx="376.8" cy="484.4" r="3.05"/>
<circle cx="376.3" cy="504" r="3.05"/>
<circle cx="380.1" cy="501.7" r="3.05"/>
<circle cx="381.4" cy="490.8" r="3.05"/>
<circle cx="381.9" cy="494.1" r="3.05"/>
<circle cx="384.4" cy="504.7" r="3.05"/>
<circle cx="388.5" cy="493.3" r="3.05"/>
<circle cx="392.8" cy="507.3" r="3.05"/>
<circle cx="391.5" cy="513.6" r="3.05"/>
<circle cx="394.1" cy="492" r="3.05"/>
<circle cx="397.4" cy="489.5" r="3.05"/>
<circle cx="396.6" cy="496.3" r="3.05"/>
<circle cx="402.9" cy="495.8" r="3.05"/>
<circle cx="404.2" cy="484.4" r="3.05"/>
<circle cx="394" cy="491.5" r="3.05"/>
<circle cx="397.3" cy="490.5" r="3.05"/>
<circle cx="394.9" cy="498.3" r="3.05"/>
<circle cx="394" cy="507.6" r="3.05"/>
<circle cx="393" cy="513.8" r="3.05"/>
<circle cx="404.1" cy="484.3" r="3.05"/>
<circle cx="402.7" cy="494.4" r="3.05"/>
<circle cx="402.7" cy="496.7" r="3.05"/>
<circle cx="409.1" cy="496.3" r="3.05"/>
<circle cx="411.8" cy="487.2" r="3.05"/>
<circle cx="414.4" cy="492.4" r="3.05"/>
<circle cx="413.4" cy="495.3" r="3.05"/>
<circle cx="419.2" cy="495.3" r="3.05"/>
<circle cx="422.1" cy="486.2" r="3.05"/>
<circle cx="418.8" cy="500.6" r="3.05"/>
<circle cx="419.6" cy="503.1" r="3.05"/>
<circle cx="433.8" cy="488.2" r="3.05"/>
<circle cx="436.1" cy="490.9" r="3.05"/>
<circle cx="430.9" cy="497.7" r="3.05"/>
<circle cx="432.8" cy="501.2" r="3.05"/>
<circle cx="439.6" cy="497.9" r="3.05"/>
<circle cx="441" cy="507.6" r="3.05"/>
<circle cx="444.5" cy="492" r="3.05"/>
<circle cx="449.3" cy="468.7" r="3.05"/>
<circle cx="446.8" cy="474" r="3.05"/>
<circle cx="450.7" cy="477.5" r="3.05"/>
<circle cx="449.9" cy="481.2" r="3.05"/>
<circle cx="459" cy="467.8" r="3.05"/>
<circle cx="454.7" cy="492" r="3.05"/>
<circle cx="452.2" cy="505" r="3.05"/>
<circle cx="456.1" cy="505" r="3.05"/>
<circle cx="453.2" cy="515.7" r="3.05"/>
<circle cx="461" cy="488.5" r="3.05"/>
<circle cx="430.3" cy="540" r="3.05"/>
</g>
<path d="M62.5 492.7L66.3 495.2L70.6 497.3L73.1 495.9L75.9 494.4L81.1 496.9L86.4 498.6L91.7 499.5L95.9 500.7L100.2 502.8L104.4 502.2L108.6 501.1L112.9 502.8L117.1 504.9L122.4 505.8L127.7 507.1L131.9 505.8L136.1 504.3L139.3 502.8L141.4 504.3L144.1 504.9L146.7 502.8L148.8 504.9L154.1 504.9L160 504.6L164.2 504.4L168.5 504L172.7 505.1L176.9 504.4L180.1 503L182.8 501.5L185.4 503L189.6 504.4L193.8 505.7L198.1 506.6L202.3 507.8L206.5 509.3L210.7 510.4L215 510.8L220.3 511.4L225.5 512.1L230.8 512.1L234 511.4L237.2 512.1L241.4 513.5L244.6 512.5L247.7 510.8L250.9 512.1L255.1 512.9L260 513.5L265.3 514.2L270.6 514.6L275.9 515L281.1 514.6L286.4 513.5L291.7 512.5L297 512.1L302.3 511.4L307.6 510.8L311.8 510.4L316 509.3L319.2 510.4L323.4 510.8L328.7 510.8L334 509.9L339.3 509.3L344.6 508.7L349.9 508.3L355.1 507.8L360 506.3L363.5 504.1L368.1 502.9L374 501.7L379.8 501L384.4 500.1L389.1 498.7L391.4 496.4L394.9 495.9L400.7 496.4L406.5 496.4L412.3 497.1L417 497.8L421.6 498.3L426.3 496.4L429.8 494.8L433.3 496.4L436.7 497.8L440.2 495.9L443.7 495.5L448.4 495.5L451.9 493.1L455.3 492.4L458.8 493.1L461.6 493.1" fill="none" stroke="#ffa000" stroke-width="2.15" stroke-linejoin="round"/>
<g id="resdots" fill="none" stroke="#333" stroke-width="0.7">
<circle cx="65" cy="587.6" r="2.4"/>
<circle cx="70.9" cy="594.1" r="2.4"/>
<circle cx="63.6" cy="603.3" r="2.4"/>
<circle cx="65.3" cy="611.3" r="2.4"/>
<circle cx="76.3" cy="608.9" r="2.4"/>
<circle cx="79.2" cy="619.3" r="2.4"/>
<circle cx="81.3" cy="596.8" r="2.4"/>
<circle cx="85.2" cy="615.7" r="2.4"/>
<circle cx="88.7" cy="580.2" r="2.4"/>
<circle cx="88.7" cy="590" r="2.4"/>
<circle cx="91.7" cy="583.2" r="2.4"/>
<circle cx="87.5" cy="608.9" r="2.4"/>
<circle cx="89" cy="610.7" r="2.4"/>
<circle cx="91.7" cy="618.1" r="2.4"/>
<circle cx="100" cy="597.1" r="2.4"/>
<circle cx="101.4" cy="591.1" r="2.4"/>
<circle cx="102.9" cy="593.5" r="2.4"/>
<circle cx="102.3" cy="584" r="2.4"/>
<circle cx="101.4" cy="611.9" r="2.4"/>
<circle cx="103.5" cy="610.4" r="2.4"/>
<circle cx="108.2" cy="585.5" r="2.4"/>
<circle cx="110.3" cy="616.3" r="2.4"/>
<circle cx="109.7" cy="620.1" r="2.4"/>
<circle cx="114.7" cy="584" r="2.4"/>
<circle cx="115.6" cy="594.4" r="2.4"/>
<circle cx="118.3" cy="598.8" r="2.4"/>
<circle cx="117.7" cy="622.2" r="2.4"/>
<circle cx="120.1" cy="589.1" r="2.4"/>
<circle cx="122.1" cy="595" r="2.4"/>
<circle cx="122.7" cy="583.2" r="2.4"/>
<circle cx="127.2" cy="566.9" r="2.4"/>
<circle cx="128.7" cy="592" r="2.4"/>
<circle cx="128.7" cy="596.5" r="2.4"/>
<circle cx="131.9" cy="585.5" r="2.4"/>
<circle cx="133.1" cy="592" r="2.4"/>
<circle cx="133.1" cy="597.4" r="2.4"/>
<circle cx="131" cy="612.2" r="2.4"/>
<circle cx="139.3" cy="598" r="2.4"/>
<circle cx="139.3" cy="608.3" r="2.4"/>
<circle cx="141.4" cy="605.9" r="2.4"/>
<circle cx="142.9" cy="602.4" r="2.4"/>
<circle cx="143.5" cy="584" r="2.4"/>
<circle cx="144.3" cy="596.5" r="2.4"/>
<circle cx="146.4" cy="595" r="2.4"/>
<circle cx="147.3" cy="598.8" r="2.4"/>
<circle cx="148.8" cy="590.6" r="2.4"/>
<circle cx="150.9" cy="583.2" r="2.4"/>
<circle cx="156.2" cy="610.4" r="2.4"/>
<circle cx="157.7" cy="595" r="2.4"/>
<circle cx="160.6" cy="617.2" r="2.4"/>
<circle cx="161.2" cy="624" r="2.4"/>
<circle cx="162.1" cy="608.9" r="2.4"/>
<circle cx="161.5" cy="602.4" r="2.4"/>
<circle cx="162.7" cy="600.3" r="2.4"/>
<circle cx="163" cy="575.2" r="2.4"/>
<circle cx="164.2" cy="579.6" r="2.4"/>
<circle cx="165.7" cy="590" r="2.4"/>
<circle cx="165.7" cy="595.9" r="2.4"/>
<circle cx="167.1" cy="592" r="2.4"/>
<circle cx="171" cy="592.6" r="2.4"/>
<circle cx="171.9" cy="596.5" r="2.4"/>
<circle cx="172.5" cy="601.8" r="2.4"/>
<circle cx="176" cy="601.8" r="2.4"/>
<circle cx="177.5" cy="591.4" r="2.4"/>
<circle cx="179.3" cy="594.4" r="2.4"/>
<circle cx="182.2" cy="597.4" r="2.4"/>
<circle cx="180.4" cy="612.2" r="2.4"/>
<circle cx="187.3" cy="599.4" r="2.4"/>
<circle cx="188.1" cy="592.6" r="2.4"/>
<circle cx="188.1" cy="611.3" r="2.4"/>
<circle cx="188.7" cy="600.3" r="2.4"/>
<circle cx="192.3" cy="598" r="2.4"/>
<circle cx="193.2" cy="603.9" r="2.4"/>
<circle cx="200" cy="579.3" r="2.4"/>
<circle cx="198" cy="591.1" r="2.4"/>
<circle cx="196.5" cy="594.1" r="2.4"/>
<circle cx="197.4" cy="605.4" r="2.4"/>
<circle cx="205.4" cy="597.1" r="2.4"/>
<circle cx="208.3" cy="595" r="2.4"/>
<circle cx="209.8" cy="598" r="2.4"/>
<circle cx="205.4" cy="602.4" r="2.4"/>
<circle cx="208.3" cy="604.5" r="2.4"/>
<circle cx="210.4" cy="606.8" r="2.4"/>
<circle cx="213.3" cy="584.6" r="2.4"/>
<circle cx="212.8" cy="587.6" r="2.4"/>
<circle cx="214.2" cy="595.6" r="2.4"/>
<circle cx="213.3" cy="599.4" r="2.4"/>
<circle cx="220.2" cy="584.6" r="2.4"/>
<circle cx="225.2" cy="582.6" r="2.4"/>
<circle cx="221.6" cy="599.4" r="2.4"/>
<circle cx="223.1" cy="605.4" r="2.4"/>
<circle cx="227.6" cy="610.4" r="2.4"/>
<circle cx="224.6" cy="615.7" r="2.4"/>
<circle cx="220.7" cy="627.5" r="2.4"/>
<circle cx="227.6" cy="626.1" r="2.4"/>
<circle cx="232.6" cy="588.5" r="2.4"/>
<circle cx="235.8" cy="585.5" r="2.4"/>
<circle cx="239.4" cy="585.5" r="2.4"/>
<circle cx="237.3" cy="591.4" r="2.4"/>
<circle cx="241.5" cy="589.1" r="2.4"/>
<circle cx="243.8" cy="588.5" r="2.4"/>
<circle cx="245.3" cy="581.7" r="2.4"/>
<circle cx="249.2" cy="587" r="2.4"/>
<circle cx="233.5" cy="602.4" r="2.4"/>
<circle cx="232.6" cy="604.8" r="2.4"/>
<circle cx="241.8" cy="596.5" r="2.4"/>
<circle cx="240.9" cy="601.5" r="2.4"/>
<circle cx="245.3" cy="611.3" r="2.4"/>
<circle cx="249.7" cy="599.4" r="2.4"/>
<circle cx="252.7" cy="601.5" r="2.4"/>
<circle cx="254.2" cy="598" r="2.4"/>
<circle cx="257.1" cy="596.5" r="2.4"/>
<circle cx="255.7" cy="602.4" r="2.4"/>
<circle cx="254.2" cy="605.9" r="2.4"/>
<circle cx="255.7" cy="608.9" r="2.4"/>
<circle cx="258.6" cy="610.7" r="2.4"/>
<circle cx="261.6" cy="580.2" r="2.4"/>
<circle cx="260.1" cy="592" r="2.4"/>
<circle cx="263.1" cy="593.5" r="2.4"/>
<circle cx="261.6" cy="596.5" r="2.4"/>
<circle cx="263.7" cy="599.4" r="2.4"/>
<circle cx="264.5" cy="602.4" r="2.4"/>
<circle cx="263.1" cy="605.4" r="2.4"/>
<circle cx="261.6" cy="606.8" r="2.4"/>
<circle cx="263.7" cy="616.3" r="2.4"/>
<circle cx="266" cy="584.6" r="2.4"/>
<circle cx="268.4" cy="578.7" r="2.4"/>
<circle cx="265.1" cy="586.7" r="2.4"/>
<circle cx="269.6" cy="591.4" r="2.4"/>
<circle cx="271.4" cy="595" r="2.4"/>
<circle cx="272.5" cy="598" r="2.4"/>
<circle cx="274.9" cy="595.6" r="2.4"/>
<circle cx="273.4" cy="601.8" r="2.4"/>
<circle cx="275.5" cy="603" r="2.4"/>
<circle cx="278.5" cy="601.5" r="2.4"/>
<circle cx="271.9" cy="613.6" r="2.4"/>
<circle cx="271.1" cy="621" r="2.4"/>
<circle cx="269.6" cy="624.6" r="2.4"/>
<circle cx="280.8" cy="619.3" r="2.4"/>
<circle cx="282.3" cy="581.7" r="2.4"/>
<circle cx="281.7" cy="590.6" r="2.4"/>
<circle cx="280.8" cy="595" r="2.4"/>
<circle cx="283.8" cy="606.2" r="2.4"/>
<circle cx="291.2" cy="593.5" r="2.4"/>
<circle cx="296.5" cy="598" r="2.4"/>
<circle cx="294.1" cy="600.9" r="2.4"/>
<circle cx="292.1" cy="603.3" r="2.4"/>
<circle cx="295" cy="603.3" r="2.4"/>
<circle cx="303.9" cy="578.1" r="2.4"/>
<circle cx="306.9" cy="598" r="2.4"/>
<circle cx="307.5" cy="600.3" r="2.4"/>
<circle cx="303.9" cy="603.3" r="2.4"/>
<circle cx="312.8" cy="588.5" r="2.4"/>
<circle cx="311.3" cy="595" r="2.4"/>
<circle cx="312.8" cy="609.8" r="2.4"/>
<circle cx="312.8" cy="612.2" r="2.4"/>
<circle cx="315.4" cy="596.5" r="2.4"/>
<circle cx="317.2" cy="599.4" r="2.4"/>
<circle cx="318.7" cy="595" r="2.4"/>
<circle cx="320.8" cy="598" r="2.4"/>
<circle cx="318.4" cy="600.9" r="2.4"/>
<circle cx="325.2" cy="604.5" r="2.4"/>
<circle cx="327.3" cy="606.8" r="2.4"/>
<circle cx="329.7" cy="603.3" r="2.4"/>
<circle cx="330" cy="576.3" r="2.4"/>
<circle cx="335.9" cy="580.8" r="2.4"/>
<circle cx="333.8" cy="586.1" r="2.4"/>
<circle cx="336.5" cy="587.6" r="2.4"/>
<circle cx="331.5" cy="593.5" r="2.4"/>
<circle cx="336.5" cy="598" r="2.4"/>
<circle cx="340.4" cy="595.9" r="2.4"/>
<circle cx="333.6" cy="599.4" r="2.4"/>
<circle cx="330.9" cy="603.9" r="2.4"/>
<circle cx="339.5" cy="606.8" r="2.4"/>
<circle cx="332.4" cy="608.9" r="2.4"/>
<circle cx="337.4" cy="610.7" r="2.4"/>
<circle cx="332.4" cy="616.3" r="2.4"/>
<circle cx="341.8" cy="621" r="2.4"/>
<circle cx="344.8" cy="623.1" r="2.4"/>
<circle cx="345.4" cy="592" r="2.4"/>
<circle cx="346.9" cy="594.1" r="2.4"/>
<circle cx="349.8" cy="592.9" r="2.4"/>
<circle cx="352.8" cy="590.6" r="2.4"/>
<circle cx="354.3" cy="590" r="2.4"/>
<circle cx="355.2" cy="593.5" r="2.4"/>
<circle cx="353.1" cy="608.3" r="2.4"/>
<circle cx="360.2" cy="579.6" r="2.4"/>
<circle cx="362.6" cy="592.9" r="2.4"/>
<circle cx="362" cy="608.3" r="2.4"/>
<circle cx="367" cy="582.6" r="2.4"/>
<circle cx="367" cy="598.5" r="2.4"/>
<circle cx="370.5" cy="595.9" r="2.4"/>
<circle cx="370.8" cy="617.8" r="2.4"/>
<circle cx="376.8" cy="577.8" r="2.4"/>
<circle cx="380.3" cy="586.1" r="2.4"/>
<circle cx="382.4" cy="585.5" r="2.4"/>
<circle cx="381.8" cy="590.6" r="2.4"/>
<circle cx="383.3" cy="589.1" r="2.4"/>
<circle cx="387.7" cy="589.1" r="2.4"/>
<circle cx="382.4" cy="598" r="2.4"/>
<circle cx="378.8" cy="600.3" r="2.4"/>
<circle cx="375.9" cy="602.4" r="2.4"/>
<circle cx="380.3" cy="602.4" r="2.4"/>
<circle cx="384.2" cy="605.4" r="2.4"/>
<circle cx="393" cy="593.5" r="2.4"/>
<circle cx="397.5" cy="590" r="2.4"/>
<circle cx="398.1" cy="595.9" r="2.4"/>
<circle cx="394.5" cy="602.4" r="2.4"/>
<circle cx="393" cy="612.7" r="2.4"/>
<circle cx="391.3" cy="620.1" r="2.4"/>
<circle cx="404" cy="583.7" r="2.4"/>
<circle cx="402.5" cy="596.5" r="2.4"/>
<circle cx="403.1" cy="600" r="2.4"/>
<circle cx="408.4" cy="600.3" r="2.4"/>
<circle cx="409.9" cy="598" r="2.4"/>
<circle cx="412.3" cy="586.7" r="2.4"/>
<circle cx="412.3" cy="595.9" r="2.4"/>
<circle cx="414.9" cy="592.9" r="2.4"/>
<circle cx="419.7" cy="596.5" r="2.4"/>
<circle cx="418.8" cy="603.3" r="2.4"/>
<circle cx="419.7" cy="606.8" r="2.4"/>
<circle cx="421.7" cy="584.6" r="2.4"/>
<circle cx="431.2" cy="603" r="2.4"/>
<circle cx="432.7" cy="605.4" r="2.4"/>
<circle cx="433.6" cy="588.5" r="2.4"/>
<circle cx="435.7" cy="590.6" r="2.4"/>
<circle cx="435.9" cy="592.9" r="2.4"/>
<circle cx="440.1" cy="603" r="2.4"/>
<circle cx="441" cy="614.2" r="2.4"/>
<circle cx="441.6" cy="614.2" r="2.4"/>
<circle cx="444.8" cy="595.6" r="2.4"/>
<circle cx="447.5" cy="572.8" r="2.4"/>
<circle cx="449.3" cy="566.3" r="2.4"/>
<circle cx="450.7" cy="579.6" r="2.4"/>
<circle cx="450.4" cy="581.7" r="2.4"/>
<circle cx="452.2" cy="613.6" r="2.4"/>
<circle cx="456.4" cy="613.6" r="2.4"/>
<circle cx="454.3" cy="597.4" r="2.4"/>
<circle cx="453.7" cy="627.5" r="2.4"/>
<circle cx="458.7" cy="566.9" r="2.4"/>
<circle cx="461.1" cy="593.5" r="2.4"/>
<circle cx="460.2" cy="598" r="2.4"/>
</g>
<path d="M62.5 446.7L66.7 446.7M464 446.7L459.8 446.7M62.5 451.4L66.7 451.4M464 451.4L459.8 451.4M62.5 456.1L70.7 456.1M464 456.1L455.8 456.1M62.5 460.8L66.7 460.8M464 460.8L459.8 460.8M62.5 465.5L66.7 465.5M464 465.5L459.8 465.5M62.5 470.2L66.7 470.2M464 470.2L459.8 470.2M62.5 474.8L66.7 474.8M464 474.8L459.8 474.8M62.5 479.5L70.7 479.5M464 479.5L455.8 479.5M62.5 484.2L66.7 484.2M464 484.2L459.8 484.2M62.5 488.9L66.7 488.9M464 488.9L459.8 488.9M62.5 493.6L66.7 493.6M464 493.6L459.8 493.6M62.5 498.3L66.7 498.3M464 498.3L459.8 498.3M62.5 503L70.7 503M464 503L455.8 503M62.5 507.6L66.7 507.6M464 507.6L459.8 507.6M62.5 512.3L66.7 512.3M464 512.3L459.8 512.3M62.5 517L66.7 517M464 517L459.8 517M62.5 521.7L66.7 521.7M464 521.7L459.8 521.7M62.5 526.4L70.7 526.4M464 526.4L455.8 526.4M62.5 531.1L66.7 531.1M464 531.1L459.8 531.1M62.5 535.8L66.7 535.8M464 535.8L459.8 535.8M62.5 540.4L66.7 540.4M464 540.4L459.8 540.4M62.5 545.1L66.7 545.1M464 545.1L459.8 545.1M62.5 549.8L70.7 549.8M464 549.8L455.8 549.8M62.5 554.5L66.7 554.5M464 554.5L459.8 554.5M62.5 559.2L66.7 559.2M464 559.2L459.8 559.2M62.5 581.4L70.7 581.4M464 581.4L455.8 581.4M62.5 598.7L70.7 598.7M464 598.7L455.8 598.7M62.5 616.1L70.7 616.1M464 616.1L455.8 616.1M62.5 445.4L62.5 448.3M62.5 561.1L62.5 565.9M62.5 633.5L62.5 631.6M82.5 445.4L82.5 446.9M82.5 562.5L82.5 565M82.5 633.5L82.5 632.5M102.6 445.4L102.6 446.9M102.6 562.5L102.6 565M102.6 633.5L102.6 632.5M122.7 445.4L122.7 446.9M122.7 562.5L122.7 565M122.7 633.5L122.7 632.5M142.8 445.4L142.8 448.3M142.8 561.1L142.8 565.9M142.8 633.5L142.8 631.6M162.8 445.4L162.8 446.9M162.8 562.5L162.8 565M162.8 633.5L162.8 632.5M182.9 445.4L182.9 446.9M182.9 562.5L182.9 565M182.9 633.5L182.9 632.5M203 445.4L203 446.9M203 562.5L203 565M203 633.5L203 632.5M223.1 445.4L223.1 448.3M223.1 561.1L223.1 565.9M223.1 633.5L223.1 631.6M243.1 445.4L243.1 446.9M243.1 562.5L243.1 565M243.1 633.5L243.1 632.5M263.2 445.4L263.2 446.9M263.2 562.5L263.2 565M263.2 633.5L263.2 632.5M283.3 445.4L283.3 446.9M283.3 562.5L283.3 565M283.3 633.5L283.3 632.5M303.4 445.4L303.4 448.3M303.4 561.1L303.4 565.9M303.4 633.5L303.4 631.6M323.5 445.4L323.5 446.9M323.5 562.5L323.5 565M323.5 633.5L323.5 632.5M343.5 445.4L343.5 446.9M343.5 562.5L343.5 565M343.5 633.5L343.5 632.5M363.6 445.4L363.6 446.9M363.6 562.5L363.6 565M363.6 633.5L363.6 632.5M383.7 445.4L383.7 448.3M383.7 561.1L383.7 565.9M383.7 633.5L383.7 631.6M403.8 445.4L403.8 446.9M403.8 562.5L403.8 565M403.8 633.5L403.8 632.5M423.8 445.4L423.8 446.9M423.8 562.5L423.8 565M423.8 633.5L423.8 632.5M443.9 445.4L443.9 446.9M443.9 562.5L443.9 565M443.9 633.5L443.9 632.5M464 445.4L464 448.3M464 561.1L464 565.9M464 633.5L464 631.6" stroke="#000" stroke-width="1.35" fill="none"/>
<rect x="62.5" y="445.4" width="401.6" height="188" fill="none" stroke="#000" stroke-width="1.55"/>
<path d="M62.5 564H464" stroke="#000" stroke-width="1.55"/>
<text x="58" y="461" font-size="15.6" text-anchor="end" textLength="36" lengthAdjust="spacingAndGlyphs" >16.75</text>
<text x="58" y="484.4" font-size="15.6" text-anchor="end" textLength="36" lengthAdjust="spacingAndGlyphs" >16.80</text>
<text x="58" y="507.9" font-size="15.6" text-anchor="end" textLength="36" lengthAdjust="spacingAndGlyphs" >16.85</text>
<text x="58" y="531.3" font-size="15.6" text-anchor="end" textLength="36" lengthAdjust="spacingAndGlyphs" >16.90</text>
<text x="58" y="554.7" font-size="15.6" text-anchor="end" textLength="36" lengthAdjust="spacingAndGlyphs" >16.95</text>
<text x="58" y="572.8" font-size="15.6" text-anchor="end" textLength="32.8" lengthAdjust="spacingAndGlyphs" >-0.06</text>
<text x="58" y="586.3" font-size="15.6" text-anchor="end" textLength="32.8" lengthAdjust="spacingAndGlyphs" >-0.03</text>
<text x="58" y="603.9" font-size="15.6" text-anchor="end" textLength="28.5" lengthAdjust="spacingAndGlyphs" >0.00</text>
<text x="58" y="621.5" font-size="15.6" text-anchor="end" textLength="28.5" lengthAdjust="spacingAndGlyphs" >0.03</text>
<text x="58" y="633.6" font-size="15.6" text-anchor="end" textLength="28.5" lengthAdjust="spacingAndGlyphs" >0.06</text>
<text x="62.5" y="647.6" font-size="15.6" text-anchor="middle" textLength="19" lengthAdjust="spacingAndGlyphs" >0.0</text>
<text x="142.8" y="647.6" font-size="15.6" text-anchor="middle" textLength="19" lengthAdjust="spacingAndGlyphs" >0.2</text>
<text x="223.1" y="647.6" font-size="15.6" text-anchor="middle" textLength="19" lengthAdjust="spacingAndGlyphs" >0.4</text>
<text x="303.4" y="647.6" font-size="15.6" text-anchor="middle" textLength="19" lengthAdjust="spacingAndGlyphs" >0.6</text>
<text x="383.7" y="647.6" font-size="15.6" text-anchor="middle" textLength="19" lengthAdjust="spacingAndGlyphs" >0.8</text>
<text x="464" y="647.6" font-size="15.6" text-anchor="middle" textLength="19" lengthAdjust="spacingAndGlyphs" >1.0</text>
<text x="265" y="666.1" font-size="15.5" text-anchor="middle" textLength="163.5" lengthAdjust="spacingAndGlyphs">Phase (<tspan font-style="italic" font-weight="bold">P</tspan><tspan font-size="9.5" dy="3">rot</tspan><tspan dy="-3"> = 0.305 days)</tspan></text>
<text transform="translate(10.8 503) rotate(-90)" font-size="15.5" text-anchor="middle" textLength="70" lengthAdjust="spacingAndGlyphs"><tspan font-style="italic" font-weight="bold">R</tspan><tspan font-size="9.5" dy="3">PTF</tspan><tspan dy="-3"> (mag)</tspan></text>
</svg>
</body></html>
